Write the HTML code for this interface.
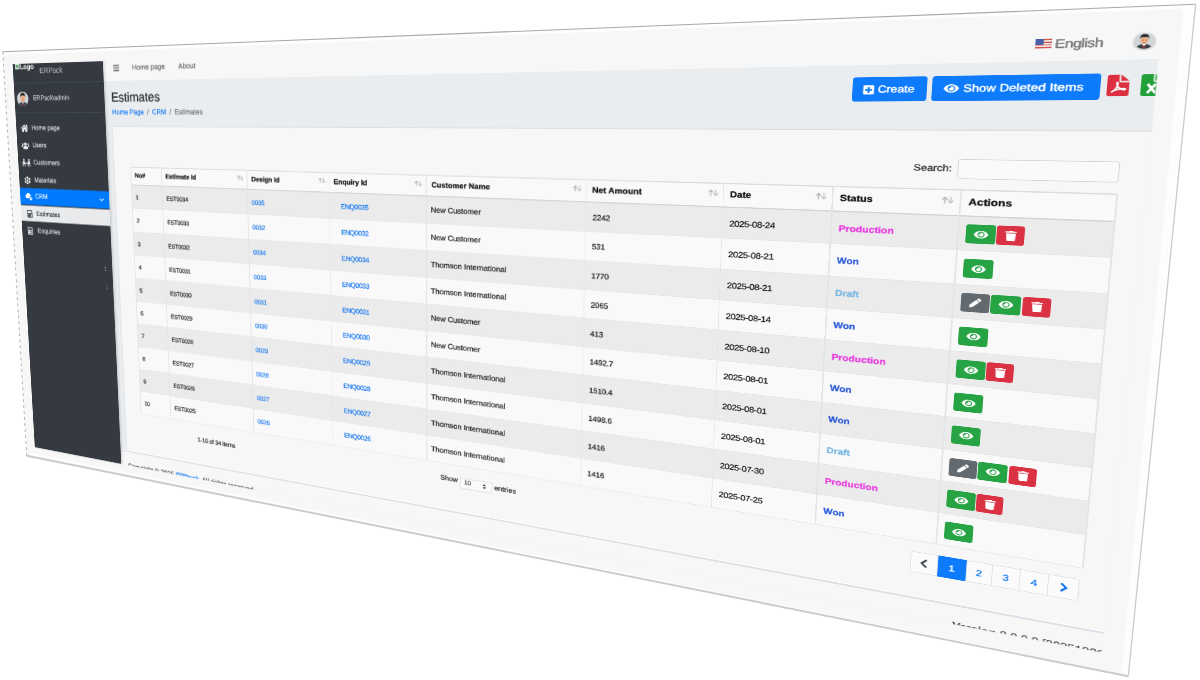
<!DOCTYPE html>
<html><head><meta charset="utf-8"><title>Estimates</title>
<style>
html,body{margin:0;padding:0;background:#fff;}
body{width:1200px;height:680px;overflow:hidden;position:relative;font-family:"Liberation Sans",sans-serif;text-rendering:geometricPrecision;}
.a{position:absolute;}
.t{white-space:nowrap;line-height:1.15;-webkit-text-stroke:.36px;}
.b{font-weight:bold;}
svg{display:block}
.strip{position:absolute;left:0;top:0;overflow:hidden;transform-origin:0 0;}
.flat{position:absolute;left:0;top:0;width:2000px;height:950px;background:#f7f7f7;transform-origin:0 0;}
.screen{overflow:hidden;clip-path:polygon(0 0,100% 0,100% calc(100% - 3.5px),0 100%)}
#ov{position:absolute;left:0;top:0}
</style></head><body>
<div class="strip" style="width:353.00px;height:475.00px;transform:matrix3d(0.69366309,-0.049295366,0,-0.0004175269,0.053538541,0.90554243,0,0.0001207023,0,0,1,0,2.8,51.8,0,1)"><div class="flat" style="transform:scale(0.5) translate(0px,0)"><div class="a screen" style="left:26px;top:27.3px;width:1942.5px;height:898.2px"><div class="a" style="left:243.5px;top:42.7px;width:1699.0px;height:855.5px;background:#eaedf0"></div><div class="a" style="left:243.5px;top:0.0px;width:1703.0px;height:42.7px;background:#f7f7f7"></div><div class="a" style="left:269.5px;top:8.2px;width:15px;height:17px;color:#555"><svg viewBox="0 0 448 512" width="15" height="17" fill="currentColor" ><path d="M16 132h416a16 16 0 0 0 16-16V76a16 16 0 0 0-16-16H16A16 16 0 0 0 0 76v40a16 16 0 0 0 16 16zm0 160h416a16 16 0 0 0 16-16v-40a16 16 0 0 0-16-16H16a16 16 0 0 0-16 16v40a16 16 0 0 0 16 16zm0 160h416a16 16 0 0 0 16-16v-40a16 16 0 0 0-16-16H16a16 16 0 0 0-16 16v40a16 16 0 0 0 16 16z"/></svg></div><div class="a t " style="left:317px;top:8.2px;font-size:15.5px;color:#6b6b6b">Home page</div><div class="a t " style="left:429px;top:8.2px;font-size:15.5px;color:#6b6b6b">About</div><div class="a" style="left:1811px;top:12.0px;width:18px;height:13.5px;background:repeating-linear-gradient(#d2554f 0 1.9px,#f2e6e6 1.9px 3.8px);overflow:hidden"><div style="width:8.5px;height:7.5px;background:#4a5fa8"></div></div><div class="a t " style="left:1832.5px;top:9.3px;font-size:16.8px;color:#777;-webkit-text-stroke:.45px;letter-spacing:-.55px">English</div><div class="a" style="left:1916px;top:7.7px;width:20.5px;height:21px;border-radius:50%;overflow:hidden;background:#c9ced2;box-shadow:0 1px 3px rgba(0,0,0,.35)"><svg viewBox="0 0 32 32" width="20.5" height="21" preserveAspectRatio="none"><rect width="32" height="32" fill="#cfd6da"/><path d="M4 32c0-7 5-9 12-9s12 2 12 9z" fill="#3a4046"/><path d="M13 23l3 5 3-5z" fill="#fff"/><path d="M15.300 25h1.400l.8 6h-3z" fill="#c0392b"/><ellipse cx="16" cy="14.500" rx="6.600" ry="8" fill="#f0b48f"/><path d="M8.800 13c-.8-8 3-10.500 7.200-10.500S24 5 23.200 13c-.7-3-1.600-4.300-2.600-5-2 .9-7.400.9-9.300 0-1 .7-1.800 2-2.500 5z" fill="#1f2326"/><ellipse cx="13.300" cy="14.300" rx="1" ry=".8" fill="#333"/><ellipse cx="18.700" cy="14.300" rx="1" ry=".8" fill="#333"/><path d="M13.500 19q2.500 1.500 5 0" stroke="#a5532f" stroke-width=".8" fill="none"/></svg></div><div class="a t " style="left:261.5px;top:61.7px;font-size:27.5px;color:#1f2328">Estimates</div><div class="a t " style="left:262px;top:101.2px;font-size:15.1px"><span style="color:#1a7bf2">Home Page</span><span style="color:#777;padding:0 8px">/</span><span style="color:#1a7bf2">CRM</span><span style="color:#777;padding:0 8px">/</span><span style="color:#6c757d">Estimates</span></div><div class="a" style="left:1598px;top:60.7px;width:91.5px;height:36.5px;background:#0d7bfb;border-radius:4px"></div><div class="a" style="left:1611px;top:71.7px;width:15px;height:15.5px;color:#fff"><svg viewBox="0 0 448 512" width="15" height="15.5" fill="currentColor" ><path d="M400 32H48C22 32 0 54 0 80v352c0 26 22 48 48 48h352c26 0 48-22 48-48V80c0-26-22-48-48-48zm-32 252c0 7-5 12-12 12h-92v92c0 7-5 12-12 12h-56c-7 0-12-5-12-12v-92H92c-7 0-12-5-12-12v-56c0-7 5-12 12-12h92v-92c0-7 5-12 12-12h56c7 0 12 5 12 12v92h92c7 0 12 5 12 12z"/></svg></div><div class="a t " style="left:1630px;top:71.0px;font-size:15px;color:#fff;-webkit-text-stroke:.5px">Create</div><div class="a" style="left:1695.5px;top:60.7px;width:189px;height:36px;background:#0d7bfb;border-radius:4px"></div><div class="a" style="left:1709px;top:71.2px;width:20px;height:16px;color:#fff"><svg viewBox="0 0 576 512" width="20" height="16" fill="currentColor" ><path d="M572 242C518 136 411 64 288 64S58 136 3 242a32 32 0 0 0 0 29c54 106 162 177 285 177s230-72 285-177a32 32 0 0 0-1-29zM288 400a144 144 0 1 1 144-144 144 144 0 0 1-144 144zm0-240a95 95 0 0 0-25 4 48 48 0 0 1-67 67 96 96 0 1 0 92-71z"/></svg></div><div class="a t " style="left:1733px;top:70.5px;font-size:15px;color:#fff;-webkit-text-stroke:.5px">Show Deleted Items</div><div class="a" style="left:1891.5px;top:62.7px;width:23px;height:29px"><svg viewBox="0 0 25 29" width="23" height="29" preserveAspectRatio="none"><path d="M2.500 0H13.500V8.500a2 2 0 0 0 2 2H25V26.500a2.500 2.500 0 0 1-2.500 2.500H2.500A2.500 2.500 0 0 1 0 26.500V2.500A2.500 2.500 0 0 1 2.500 0z" fill="#dc3040"/><path d="M15.500 0 25 8.500H15.500z" fill="#dc3040"/><path d="M5 23.500c3.500-1.500 6.500-6 7.300-11.500.3-2-1.800-2-1.500 0 .8 5 4 8 9 8.500 1.800.2 1.800-1.800 0-1.800-5 0-11 2-14.800 4.800z" fill="none" stroke="#fff" stroke-width="1.900"/></svg></div><div class="a" style="left:1927px;top:62.7px;width:23px;height:29px"><svg viewBox="0 0 25 29" width="23" height="29" preserveAspectRatio="none"><path d="M2.500 0H13.500V8.500a2 2 0 0 0 2 2H25V26.500a2.500 2.500 0 0 1-2.500 2.500H2.500A2.500 2.500 0 0 1 0 26.500V2.500A2.500 2.500 0 0 1 2.500 0z" fill="#21a03a"/><path d="M15.500 0 25 8.500H15.500z" fill="#21a03a"/><path d="M7.500 13l9 12M16.500 13l-9 12" stroke="#fff" stroke-width="3.200"/></svg></div><div class="a" style="left:261px;top:140.2px;width:1685.5px;height:726.5px;background:#f7f7f7;box-shadow:-1px -1px 2px rgba(0,0,0,.10)"></div><div class="a t " style="left:1680px;top:187.2px;font-size:13.4px;color:#333">Search:</div><div class="a" style="left:1732.5px;top:180.7px;width:180.5px;height:29px;border:1.5px solid #ced4da;border-radius:4px;background:#fafafa;box-sizing:border-box"></div><div class="a" style="left:303px;top:225.7px;width:1610px;height:545.5px;background:#f9f9f9"></div><div class="a" style="left:303px;top:263.7px;width:1610px;height:50.75px;background:#ebebeb"></div><div class="a" style="left:303px;top:313.9px;width:1610px;height:1px;background:#e2e5e8"></div><div class="a" style="left:303px;top:365.2px;width:1610px;height:50.75px;background:#ebebeb"></div><div class="a" style="left:303px;top:364.7px;width:1610px;height:1px;background:#e2e5e8"></div><div class="a" style="left:303px;top:415.4px;width:1610px;height:1px;background:#e2e5e8"></div><div class="a" style="left:303px;top:466.7px;width:1610px;height:50.75px;background:#ebebeb"></div><div class="a" style="left:303px;top:466.2px;width:1610px;height:1px;background:#e2e5e8"></div><div class="a" style="left:303px;top:517.0px;width:1610px;height:1px;background:#e2e5e8"></div><div class="a" style="left:303px;top:568.2px;width:1610px;height:50.75px;background:#ebebeb"></div><div class="a" style="left:303px;top:567.7px;width:1610px;height:1px;background:#e2e5e8"></div><div class="a" style="left:303px;top:618.5px;width:1610px;height:1px;background:#e2e5e8"></div><div class="a" style="left:303px;top:669.7px;width:1610px;height:50.75px;background:#ebebeb"></div><div class="a" style="left:303px;top:669.2px;width:1610px;height:1px;background:#e2e5e8"></div><div class="a" style="left:303px;top:720.0px;width:1610px;height:1px;background:#e2e5e8"></div><div class="a" style="left:303px;top:225.2px;width:1610px;height:1.2px;background:#d9dde1"></div><div class="a" style="left:303px;top:262.5px;width:1610px;height:2.4px;background:#cfd5da"></div><div class="a" style="left:303px;top:770.7px;width:1610px;height:1px;background:#e2e5e8"></div><div class="a" style="left:302.4px;top:225.7px;width:1.2px;height:545.5px;background:#e2e5e8"></div><div class="a" style="left:378.4px;top:225.7px;width:1.2px;height:545.5px;background:#e2e5e8"></div><div class="a" style="left:578.4px;top:225.7px;width:1.2px;height:545.5px;background:#e2e5e8"></div><div class="a" style="left:753.9px;top:225.7px;width:1.2px;height:545.5px;background:#e2e5e8"></div><div class="a" style="left:944.4px;top:225.7px;width:1.2px;height:545.5px;background:#e2e5e8"></div><div class="a" style="left:1221.9px;top:225.7px;width:1.2px;height:545.5px;background:#e2e5e8"></div><div class="a" style="left:1429.9px;top:225.7px;width:1.2px;height:545.5px;background:#e2e5e8"></div><div class="a" style="left:1579.4px;top:225.7px;width:1.2px;height:545.5px;background:#e2e5e8"></div><div class="a" style="left:1738.4px;top:225.7px;width:1.2px;height:545.5px;background:#e2e5e8"></div><div class="a" style="left:1912.4px;top:225.7px;width:1.2px;height:545.5px;background:#e2e5e8"></div><div class="a t b" style="left:312.5px;top:235.7px;font-size:13.8px;color:#111">No#</div><div class="a t b" style="left:388.5px;top:235.7px;font-size:13.8px;color:#111">Estimate Id</div><div class="a" style="left:556px;top:235.7px"><svg viewBox="0 0 16 11" width="16" height="11" fill="currentColor" ><path d="M4.500 10.500V1.500M1.200 4.800 4.500 1.300 7.800 4.800" stroke="#b9b9b9" stroke-width="1.700" fill="none"/><path d="M11.500 .5v9M8.200 6.200 11.500 9.700 14.800 6.200" stroke="#c6c6c6" stroke-width="1.700" fill="none"/></svg></div><div class="a t b" style="left:588.5px;top:235.7px;font-size:13.8px;color:#111">Design Id</div><div class="a" style="left:731.5px;top:235.7px"><svg viewBox="0 0 16 11" width="16" height="11" fill="currentColor" ><path d="M4.500 10.500V1.500M1.200 4.800 4.500 1.300 7.800 4.800" stroke="#b9b9b9" stroke-width="1.700" fill="none"/><path d="M11.500 .5v9M8.200 6.200 11.500 9.700 14.800 6.200" stroke="#c6c6c6" stroke-width="1.700" fill="none"/></svg></div><div class="a t b" style="left:764.0px;top:235.7px;font-size:13.8px;color:#111">Enquiry Id</div><div class="a" style="left:922px;top:235.7px"><svg viewBox="0 0 16 11" width="16" height="11" fill="currentColor" ><path d="M4.500 10.500V1.500M1.200 4.800 4.500 1.300 7.800 4.800" stroke="#b9b9b9" stroke-width="1.700" fill="none"/><path d="M11.500 .5v9M8.200 6.200 11.500 9.700 14.800 6.200" stroke="#c6c6c6" stroke-width="1.700" fill="none"/></svg></div><div class="a t b" style="left:954.5px;top:235.7px;font-size:13.8px;color:#111">Customer Name</div><div class="a" style="left:1199.5px;top:235.7px"><svg viewBox="0 0 16 11" width="16" height="11" fill="currentColor" ><path d="M4.500 10.500V1.500M1.200 4.800 4.500 1.300 7.800 4.800" stroke="#b9b9b9" stroke-width="1.700" fill="none"/><path d="M11.500 .5v9M8.200 6.200 11.500 9.700 14.800 6.200" stroke="#c6c6c6" stroke-width="1.700" fill="none"/></svg></div><div class="a t b" style="left:1232.0px;top:235.7px;font-size:13.8px;color:#111">Net Amount</div><div class="a" style="left:1407.5px;top:235.7px"><svg viewBox="0 0 16 11" width="16" height="11" fill="currentColor" ><path d="M4.500 10.500V1.500M1.200 4.800 4.500 1.300 7.800 4.800" stroke="#b9b9b9" stroke-width="1.700" fill="none"/><path d="M11.500 .5v9M8.200 6.200 11.500 9.700 14.800 6.200" stroke="#c6c6c6" stroke-width="1.700" fill="none"/></svg></div><div class="a t b" style="left:1440.0px;top:235.7px;font-size:13.8px;color:#111">Date</div><div class="a" style="left:1557px;top:235.7px"><svg viewBox="0 0 16 11" width="16" height="11" fill="currentColor" ><path d="M4.500 10.500V1.500M1.200 4.800 4.500 1.300 7.800 4.800" stroke="#b9b9b9" stroke-width="1.700" fill="none"/><path d="M11.500 .5v9M8.200 6.200 11.500 9.700 14.800 6.200" stroke="#c6c6c6" stroke-width="1.700" fill="none"/></svg></div><div class="a t b" style="left:1589.5px;top:235.7px;font-size:13.8px;color:#111">Status</div><div class="a" style="left:1716px;top:235.7px"><svg viewBox="0 0 16 11" width="16" height="11" fill="currentColor" ><path d="M4.500 10.500V1.500M1.200 4.800 4.500 1.300 7.800 4.800" stroke="#b9b9b9" stroke-width="1.700" fill="none"/><path d="M11.500 .5v9M8.200 6.200 11.500 9.700 14.800 6.200" stroke="#c6c6c6" stroke-width="1.700" fill="none"/></svg></div><div class="a t b" style="left:1748.5px;top:235.7px;font-size:13.8px;color:#111">Actions</div><div class="a t " style="left:312.5px;top:282.3px;font-size:13.2px;color:#222;letter-spacing:-.35px">1</div><div class="a t " style="left:388.8px;top:282.3px;font-size:13.2px;color:#222;letter-spacing:-.35px">EST0034</div><div class="a t " style="left:588.2px;top:282.3px;font-size:13.2px;color:#1b7af0;letter-spacing:-.35px">0035</div><div class="a t " style="left:778px;top:282.3px;font-size:13.2px;color:#1b7af0;letter-spacing:-.35px">ENQ0035</div><div class="a t " style="left:953.3px;top:282.0px;font-size:13.8px;color:#222">New Customer</div><div class="a t " style="left:1233.2px;top:282.3px;font-size:13.2px;color:#222;letter-spacing:-.35px">2242</div><div class="a t " style="left:1440.7px;top:282.3px;font-size:13.2px;color:#222;letter-spacing:-.35px">2025-08-24</div><div class="a t b" style="left:1590px;top:282.3px;font-size:13.4px;color:#e83ae0">Production</div><div class="a" style="left:1747.5px;top:276.1px;width:35.3px;height:28px;background:#26a343;border-radius:3.5px"></div><div class="a" style="left:1756.5px;top:282.6px;width:18px;height:15px;color:#fff"><svg viewBox="0 0 576 512" width="18" height="15" fill="currentColor" ><path d="M572 242C518 136 411 64 288 64S58 136 3 242a32 32 0 0 0 0 29c54 106 162 177 285 177s230-72 285-177a32 32 0 0 0-1-29zM288 400a144 144 0 1 1 144-144 144 144 0 0 1-144 144zm0-240a95 95 0 0 0-25 4 48 48 0 0 1-67 67 96 96 0 1 0 92-71z"/></svg></div><div class="a" style="left:1784.3px;top:276.1px;width:32.2px;height:28px;background:#da3243;border-radius:3.5px"></div><div class="a" style="left:1794.3px;top:282.6px;width:13px;height:15px;color:#fff"><svg viewBox="0 0 448 512" width="13" height="15" fill="currentColor" ><path d="M432 32H312l-9-19a24 24 0 0 0-22-13H167a24 24 0 0 0-21 13l-10 19H16A16 16 0 0 0 0 48v32a16 16 0 0 0 16 16h416a16 16 0 0 0 16-16V48a16 16 0 0 0-16-16zM53 467a48 48 0 0 0 48 45h246a48 48 0 0 0 48-45l21-339H32z"/></svg></div><div class="a t " style="left:312.5px;top:333.0px;font-size:13.2px;color:#222;letter-spacing:-.35px">2</div><div class="a t " style="left:388.8px;top:333.0px;font-size:13.2px;color:#222;letter-spacing:-.35px">EST0033</div><div class="a t " style="left:588.2px;top:333.0px;font-size:13.2px;color:#1b7af0;letter-spacing:-.35px">0032</div><div class="a t " style="left:778px;top:333.0px;font-size:13.2px;color:#1b7af0;letter-spacing:-.35px">ENQ0032</div><div class="a t " style="left:953.3px;top:332.7px;font-size:13.8px;color:#222">New Customer</div><div class="a t " style="left:1233.2px;top:333.0px;font-size:13.2px;color:#222;letter-spacing:-.35px">531</div><div class="a t " style="left:1440.7px;top:333.0px;font-size:13.2px;color:#222;letter-spacing:-.35px">2025-08-21</div><div class="a t b" style="left:1590px;top:333.0px;font-size:13.4px;color:#2d5bd8">Won</div><div class="a" style="left:1747.5px;top:326.8px;width:35.3px;height:28px;background:#26a343;border-radius:3.5px"></div><div class="a" style="left:1756.5px;top:333.3px;width:18px;height:15px;color:#fff"><svg viewBox="0 0 576 512" width="18" height="15" fill="currentColor" ><path d="M572 242C518 136 411 64 288 64S58 136 3 242a32 32 0 0 0 0 29c54 106 162 177 285 177s230-72 285-177a32 32 0 0 0-1-29zM288 400a144 144 0 1 1 144-144 144 144 0 0 1-144 144zm0-240a95 95 0 0 0-25 4 48 48 0 0 1-67 67 96 96 0 1 0 92-71z"/></svg></div><div class="a t " style="left:312.5px;top:383.8px;font-size:13.2px;color:#222;letter-spacing:-.35px">3</div><div class="a t " style="left:388.8px;top:383.8px;font-size:13.2px;color:#222;letter-spacing:-.35px">EST0032</div><div class="a t " style="left:588.2px;top:383.8px;font-size:13.2px;color:#1b7af0;letter-spacing:-.35px">0034</div><div class="a t " style="left:778px;top:383.8px;font-size:13.2px;color:#1b7af0;letter-spacing:-.35px">ENQ0034</div><div class="a t " style="left:953.3px;top:383.5px;font-size:13.8px;color:#222">Thomson International</div><div class="a t " style="left:1233.2px;top:383.8px;font-size:13.2px;color:#222;letter-spacing:-.35px">1770</div><div class="a t " style="left:1440.7px;top:383.8px;font-size:13.2px;color:#222;letter-spacing:-.35px">2025-08-21</div><div class="a t b" style="left:1590px;top:383.8px;font-size:13.4px;color:#79b7e3">Draft</div><div class="a" style="left:1747.5px;top:377.6px;width:34px;height:28px;background:#62696f;border-radius:3.5px"></div><div class="a" style="left:1757.5px;top:384.6px;width:14px;height:14px;color:#fff"><svg viewBox="0 0 512 512" width="14" height="14" fill="currentColor" ><path d="M498 142l-46 46c-5 5-12 5-17 0L324 77c-5-5-5-12 0-17l46-46c19-19 49-19 68 0l60 60c19 19 19 49 0 68zM285 99 23 361 2 482c-3 17 12 31 28 28l121-21 262-262c5-5 5-12 0-17L302 99c-5-5-12-5-17 0z"/></svg></div><div class="a" style="left:1783.0px;top:377.6px;width:35.3px;height:28px;background:#26a343;border-radius:3.5px"></div><div class="a" style="left:1792.0px;top:384.1px;width:18px;height:15px;color:#fff"><svg viewBox="0 0 576 512" width="18" height="15" fill="currentColor" ><path d="M572 242C518 136 411 64 288 64S58 136 3 242a32 32 0 0 0 0 29c54 106 162 177 285 177s230-72 285-177a32 32 0 0 0-1-29zM288 400a144 144 0 1 1 144-144 144 144 0 0 1-144 144zm0-240a95 95 0 0 0-25 4 48 48 0 0 1-67 67 96 96 0 1 0 92-71z"/></svg></div><div class="a" style="left:1819.8px;top:377.6px;width:32.2px;height:28px;background:#da3243;border-radius:3.5px"></div><div class="a" style="left:1829.8px;top:384.1px;width:13px;height:15px;color:#fff"><svg viewBox="0 0 448 512" width="13" height="15" fill="currentColor" ><path d="M432 32H312l-9-19a24 24 0 0 0-22-13H167a24 24 0 0 0-21 13l-10 19H16A16 16 0 0 0 0 48v32a16 16 0 0 0 16 16h416a16 16 0 0 0 16-16V48a16 16 0 0 0-16-16zM53 467a48 48 0 0 0 48 45h246a48 48 0 0 0 48-45l21-339H32z"/></svg></div><div class="a t " style="left:312.5px;top:434.5px;font-size:13.2px;color:#222;letter-spacing:-.35px">4</div><div class="a t " style="left:388.8px;top:434.5px;font-size:13.2px;color:#222;letter-spacing:-.35px">EST0031</div><div class="a t " style="left:588.2px;top:434.5px;font-size:13.2px;color:#1b7af0;letter-spacing:-.35px">0033</div><div class="a t " style="left:778px;top:434.5px;font-size:13.2px;color:#1b7af0;letter-spacing:-.35px">ENQ0033</div><div class="a t " style="left:953.3px;top:434.2px;font-size:13.8px;color:#222">Thomson International</div><div class="a t " style="left:1233.2px;top:434.5px;font-size:13.2px;color:#222;letter-spacing:-.35px">2065</div><div class="a t " style="left:1440.7px;top:434.5px;font-size:13.2px;color:#222;letter-spacing:-.35px">2025-08-14</div><div class="a t b" style="left:1590px;top:434.5px;font-size:13.4px;color:#2d5bd8">Won</div><div class="a" style="left:1747.5px;top:428.3px;width:35.3px;height:28px;background:#26a343;border-radius:3.5px"></div><div class="a" style="left:1756.5px;top:434.8px;width:18px;height:15px;color:#fff"><svg viewBox="0 0 576 512" width="18" height="15" fill="currentColor" ><path d="M572 242C518 136 411 64 288 64S58 136 3 242a32 32 0 0 0 0 29c54 106 162 177 285 177s230-72 285-177a32 32 0 0 0-1-29zM288 400a144 144 0 1 1 144-144 144 144 0 0 1-144 144zm0-240a95 95 0 0 0-25 4 48 48 0 0 1-67 67 96 96 0 1 0 92-71z"/></svg></div><div class="a t " style="left:312.5px;top:485.3px;font-size:13.2px;color:#222;letter-spacing:-.35px">5</div><div class="a t " style="left:388.8px;top:485.3px;font-size:13.2px;color:#222;letter-spacing:-.35px">EST0030</div><div class="a t " style="left:588.2px;top:485.3px;font-size:13.2px;color:#1b7af0;letter-spacing:-.35px">0031</div><div class="a t " style="left:778px;top:485.3px;font-size:13.2px;color:#1b7af0;letter-spacing:-.35px">ENQ0031</div><div class="a t " style="left:953.3px;top:485.0px;font-size:13.8px;color:#222">New Customer</div><div class="a t " style="left:1233.2px;top:485.3px;font-size:13.2px;color:#222;letter-spacing:-.35px">413</div><div class="a t " style="left:1440.7px;top:485.3px;font-size:13.2px;color:#222;letter-spacing:-.35px">2025-08-10</div><div class="a t b" style="left:1590px;top:485.3px;font-size:13.4px;color:#e83ae0">Production</div><div class="a" style="left:1747.5px;top:479.1px;width:35.3px;height:28px;background:#26a343;border-radius:3.5px"></div><div class="a" style="left:1756.5px;top:485.6px;width:18px;height:15px;color:#fff"><svg viewBox="0 0 576 512" width="18" height="15" fill="currentColor" ><path d="M572 242C518 136 411 64 288 64S58 136 3 242a32 32 0 0 0 0 29c54 106 162 177 285 177s230-72 285-177a32 32 0 0 0-1-29zM288 400a144 144 0 1 1 144-144 144 144 0 0 1-144 144zm0-240a95 95 0 0 0-25 4 48 48 0 0 1-67 67 96 96 0 1 0 92-71z"/></svg></div><div class="a" style="left:1784.3px;top:479.1px;width:32.2px;height:28px;background:#da3243;border-radius:3.5px"></div><div class="a" style="left:1794.3px;top:485.6px;width:13px;height:15px;color:#fff"><svg viewBox="0 0 448 512" width="13" height="15" fill="currentColor" ><path d="M432 32H312l-9-19a24 24 0 0 0-22-13H167a24 24 0 0 0-21 13l-10 19H16A16 16 0 0 0 0 48v32a16 16 0 0 0 16 16h416a16 16 0 0 0 16-16V48a16 16 0 0 0-16-16zM53 467a48 48 0 0 0 48 45h246a48 48 0 0 0 48-45l21-339H32z"/></svg></div><div class="a t " style="left:312.5px;top:536.0px;font-size:13.2px;color:#222;letter-spacing:-.35px">6</div><div class="a t " style="left:388.8px;top:536.0px;font-size:13.2px;color:#222;letter-spacing:-.35px">EST0029</div><div class="a t " style="left:588.2px;top:536.0px;font-size:13.2px;color:#1b7af0;letter-spacing:-.35px">0030</div><div class="a t " style="left:778px;top:536.0px;font-size:13.2px;color:#1b7af0;letter-spacing:-.35px">ENQ0030</div><div class="a t " style="left:953.3px;top:535.7px;font-size:13.8px;color:#222">New Customer</div><div class="a t " style="left:1233.2px;top:536.0px;font-size:13.2px;color:#222;letter-spacing:-.35px">1492.7</div><div class="a t " style="left:1440.7px;top:536.0px;font-size:13.2px;color:#222;letter-spacing:-.35px">2025-08-01</div><div class="a t b" style="left:1590px;top:536.0px;font-size:13.4px;color:#2d5bd8">Won</div><div class="a" style="left:1747.5px;top:529.8px;width:35.3px;height:28px;background:#26a343;border-radius:3.5px"></div><div class="a" style="left:1756.5px;top:536.3px;width:18px;height:15px;color:#fff"><svg viewBox="0 0 576 512" width="18" height="15" fill="currentColor" ><path d="M572 242C518 136 411 64 288 64S58 136 3 242a32 32 0 0 0 0 29c54 106 162 177 285 177s230-72 285-177a32 32 0 0 0-1-29zM288 400a144 144 0 1 1 144-144 144 144 0 0 1-144 144zm0-240a95 95 0 0 0-25 4 48 48 0 0 1-67 67 96 96 0 1 0 92-71z"/></svg></div><div class="a t " style="left:312.5px;top:586.8px;font-size:13.2px;color:#222;letter-spacing:-.35px">7</div><div class="a t " style="left:388.8px;top:586.8px;font-size:13.2px;color:#222;letter-spacing:-.35px">EST0028</div><div class="a t " style="left:588.2px;top:586.8px;font-size:13.2px;color:#1b7af0;letter-spacing:-.35px">0029</div><div class="a t " style="left:778px;top:586.8px;font-size:13.2px;color:#1b7af0;letter-spacing:-.35px">ENQ0029</div><div class="a t " style="left:953.3px;top:586.5px;font-size:13.8px;color:#222">Thomson International</div><div class="a t " style="left:1233.2px;top:586.8px;font-size:13.2px;color:#222;letter-spacing:-.35px">1510.4</div><div class="a t " style="left:1440.7px;top:586.8px;font-size:13.2px;color:#222;letter-spacing:-.35px">2025-08-01</div><div class="a t b" style="left:1590px;top:586.8px;font-size:13.4px;color:#2d5bd8">Won</div><div class="a" style="left:1747.5px;top:580.6px;width:35.3px;height:28px;background:#26a343;border-radius:3.5px"></div><div class="a" style="left:1756.5px;top:587.1px;width:18px;height:15px;color:#fff"><svg viewBox="0 0 576 512" width="18" height="15" fill="currentColor" ><path d="M572 242C518 136 411 64 288 64S58 136 3 242a32 32 0 0 0 0 29c54 106 162 177 285 177s230-72 285-177a32 32 0 0 0-1-29zM288 400a144 144 0 1 1 144-144 144 144 0 0 1-144 144zm0-240a95 95 0 0 0-25 4 48 48 0 0 1-67 67 96 96 0 1 0 92-71z"/></svg></div><div class="a t " style="left:312.5px;top:637.5px;font-size:13.2px;color:#222;letter-spacing:-.35px">8</div><div class="a t " style="left:388.8px;top:637.5px;font-size:13.2px;color:#222;letter-spacing:-.35px">EST0027</div><div class="a t " style="left:588.2px;top:637.5px;font-size:13.2px;color:#1b7af0;letter-spacing:-.35px">0028</div><div class="a t " style="left:778px;top:637.5px;font-size:13.2px;color:#1b7af0;letter-spacing:-.35px">ENQ0028</div><div class="a t " style="left:953.3px;top:637.2px;font-size:13.8px;color:#222">Thomson International</div><div class="a t " style="left:1233.2px;top:637.5px;font-size:13.2px;color:#222;letter-spacing:-.35px">1498.6</div><div class="a t " style="left:1440.7px;top:637.5px;font-size:13.2px;color:#222;letter-spacing:-.35px">2025-08-01</div><div class="a t b" style="left:1590px;top:637.5px;font-size:13.4px;color:#79b7e3">Draft</div><div class="a" style="left:1747.5px;top:631.3px;width:34px;height:28px;background:#62696f;border-radius:3.5px"></div><div class="a" style="left:1757.5px;top:638.3px;width:14px;height:14px;color:#fff"><svg viewBox="0 0 512 512" width="14" height="14" fill="currentColor" ><path d="M498 142l-46 46c-5 5-12 5-17 0L324 77c-5-5-5-12 0-17l46-46c19-19 49-19 68 0l60 60c19 19 19 49 0 68zM285 99 23 361 2 482c-3 17 12 31 28 28l121-21 262-262c5-5 5-12 0-17L302 99c-5-5-12-5-17 0z"/></svg></div><div class="a" style="left:1783.0px;top:631.3px;width:35.3px;height:28px;background:#26a343;border-radius:3.5px"></div><div class="a" style="left:1792.0px;top:637.8px;width:18px;height:15px;color:#fff"><svg viewBox="0 0 576 512" width="18" height="15" fill="currentColor" ><path d="M572 242C518 136 411 64 288 64S58 136 3 242a32 32 0 0 0 0 29c54 106 162 177 285 177s230-72 285-177a32 32 0 0 0-1-29zM288 400a144 144 0 1 1 144-144 144 144 0 0 1-144 144zm0-240a95 95 0 0 0-25 4 48 48 0 0 1-67 67 96 96 0 1 0 92-71z"/></svg></div><div class="a" style="left:1819.8px;top:631.3px;width:32.2px;height:28px;background:#da3243;border-radius:3.5px"></div><div class="a" style="left:1829.8px;top:637.8px;width:13px;height:15px;color:#fff"><svg viewBox="0 0 448 512" width="13" height="15" fill="currentColor" ><path d="M432 32H312l-9-19a24 24 0 0 0-22-13H167a24 24 0 0 0-21 13l-10 19H16A16 16 0 0 0 0 48v32a16 16 0 0 0 16 16h416a16 16 0 0 0 16-16V48a16 16 0 0 0-16-16zM53 467a48 48 0 0 0 48 45h246a48 48 0 0 0 48-45l21-339H32z"/></svg></div><div class="a t " style="left:312.5px;top:688.3px;font-size:13.2px;color:#222;letter-spacing:-.35px">9</div><div class="a t " style="left:388.8px;top:688.3px;font-size:13.2px;color:#222;letter-spacing:-.35px">EST0026</div><div class="a t " style="left:588.2px;top:688.3px;font-size:13.2px;color:#1b7af0;letter-spacing:-.35px">0027</div><div class="a t " style="left:778px;top:688.3px;font-size:13.2px;color:#1b7af0;letter-spacing:-.35px">ENQ0027</div><div class="a t " style="left:953.3px;top:688.0px;font-size:13.8px;color:#222">Thomson International</div><div class="a t " style="left:1233.2px;top:688.3px;font-size:13.2px;color:#222;letter-spacing:-.35px">1416</div><div class="a t " style="left:1440.7px;top:688.3px;font-size:13.2px;color:#222;letter-spacing:-.35px">2025-07-30</div><div class="a t b" style="left:1590px;top:688.3px;font-size:13.4px;color:#e83ae0">Production</div><div class="a" style="left:1747.5px;top:682.1px;width:35.3px;height:28px;background:#26a343;border-radius:3.5px"></div><div class="a" style="left:1756.5px;top:688.6px;width:18px;height:15px;color:#fff"><svg viewBox="0 0 576 512" width="18" height="15" fill="currentColor" ><path d="M572 242C518 136 411 64 288 64S58 136 3 242a32 32 0 0 0 0 29c54 106 162 177 285 177s230-72 285-177a32 32 0 0 0-1-29zM288 400a144 144 0 1 1 144-144 144 144 0 0 1-144 144zm0-240a95 95 0 0 0-25 4 48 48 0 0 1-67 67 96 96 0 1 0 92-71z"/></svg></div><div class="a" style="left:1784.3px;top:682.1px;width:32.2px;height:28px;background:#da3243;border-radius:3.5px"></div><div class="a" style="left:1794.3px;top:688.6px;width:13px;height:15px;color:#fff"><svg viewBox="0 0 448 512" width="13" height="15" fill="currentColor" ><path d="M432 32H312l-9-19a24 24 0 0 0-22-13H167a24 24 0 0 0-21 13l-10 19H16A16 16 0 0 0 0 48v32a16 16 0 0 0 16 16h416a16 16 0 0 0 16-16V48a16 16 0 0 0-16-16zM53 467a48 48 0 0 0 48 45h246a48 48 0 0 0 48-45l21-339H32z"/></svg></div><div class="a t " style="left:312.5px;top:739.0px;font-size:13.2px;color:#222;letter-spacing:-.35px">10</div><div class="a t " style="left:388.8px;top:739.0px;font-size:13.2px;color:#222;letter-spacing:-.35px">EST0025</div><div class="a t " style="left:588.2px;top:739.0px;font-size:13.2px;color:#1b7af0;letter-spacing:-.35px">0026</div><div class="a t " style="left:778px;top:739.0px;font-size:13.2px;color:#1b7af0;letter-spacing:-.35px">ENQ0026</div><div class="a t " style="left:953.3px;top:738.7px;font-size:13.8px;color:#222">Thomson International</div><div class="a t " style="left:1233.2px;top:739.0px;font-size:13.2px;color:#222;letter-spacing:-.35px">1416</div><div class="a t " style="left:1440.7px;top:739.0px;font-size:13.2px;color:#222;letter-spacing:-.35px">2025-07-25</div><div class="a t b" style="left:1590px;top:739.0px;font-size:13.4px;color:#2d5bd8">Won</div><div class="a" style="left:1747.5px;top:732.8px;width:35.3px;height:28px;background:#26a343;border-radius:3.5px"></div><div class="a" style="left:1756.5px;top:739.3px;width:18px;height:15px;color:#fff"><svg viewBox="0 0 576 512" width="18" height="15" fill="currentColor" ><path d="M572 242C518 136 411 64 288 64S58 136 3 242a32 32 0 0 0 0 29c54 106 162 177 285 177s230-72 285-177a32 32 0 0 0-1-29zM288 400a144 144 0 1 1 144-144 144 144 0 0 1-144 144zm0-240a95 95 0 0 0-25 4 48 48 0 0 1-67 67 96 96 0 1 0 92-71z"/></svg></div><div class="a t " style="left:444px;top:800.7px;font-size:13.3px;color:#222;letter-spacing:-.3px">1-10 of 34 items</div><div class="a t " style="left:971px;top:792.2px;font-size:13.2px;color:#222">Show</div><div class="a" style="left:1007.5px;top:793.7px;width:60px;height:21px;border:1.2px solid #ced4da;border-radius:3px;box-sizing:border-box;background:#fafafa"></div><div class="a t " style="left:1016px;top:796.7px;font-size:11.5px;color:#444">10</div><div class="a" style="left:1050px;top:799.2px"><svg width="7" height="10" viewBox="0 0 7 10"><path d="M3.500 0 6.500 4H.5zM3.500 10 .5 6h6z" fill="#333"/></svg></div><div class="a t " style="left:1071.5px;top:794.7px;font-size:13.2px;color:#222">entries</div><div class="a" style="left:1708px;top:788.7px;width:202.5px;height:34px;background:#fbfbfb;border:1px solid #dde1e5;border-radius:4px;box-sizing:border-box"></div><div class="a" style="left:1742.0px;top:788.7px;width:1px;height:34px;background:#dde1e5"></div><div class="a" style="left:1777.5px;top:788.7px;width:1px;height:34px;background:#dde1e5"></div><div class="a" style="left:1809.1px;top:788.7px;width:1px;height:34px;background:#dde1e5"></div><div class="a" style="left:1842.1px;top:788.7px;width:1px;height:34px;background:#dde1e5"></div><div class="a" style="left:1875.2px;top:788.7px;width:1px;height:34px;background:#dde1e5"></div><div class="a" style="left:1742.5px;top:788.7px;width:35.5px;height:34px;background:#0d7bfb"></div><div class="a" style="left:1719.8px;top:797.7px"><svg width="11" height="16" viewBox="0 0 11 16"><path d="M8.500 2 2.500 8l6 6" fill="none" stroke="#3c4248" stroke-width="2.600"/></svg></div><div class="a t" style="left:1745.2px;top:788.7px;width:30px;height:34px;line-height:35px;text-align:center;font-size:13.5px;color:#fff">1</div><div class="a t" style="left:1778.8px;top:788.7px;width:30px;height:34px;line-height:35px;text-align:center;font-size:13.5px;color:#1a7bf2">2</div><div class="a t" style="left:1811.1px;top:788.7px;width:30px;height:34px;line-height:35px;text-align:center;font-size:13.5px;color:#1a7bf2">3</div><div class="a t" style="left:1844.2px;top:788.7px;width:30px;height:34px;line-height:35px;text-align:center;font-size:13.5px;color:#1a7bf2">4</div><div class="a" style="left:1887.6px;top:797.7px"><svg width="11" height="16" viewBox="0 0 11 16"><path d="M2.500 2l6 6-6 6" fill="none" stroke="#0d6ff0" stroke-width="2.600"/></svg></div><div class="a" style="left:243.5px;top:863.2px;width:1703.0px;height:44px;background:#f7f7f7;border-top:3.5px solid #dbe1e7;box-shadow:0 -2px 0 #fbfbfb"></div><div class="a t " style="left:262px;top:889.7px;font-size:15.4px;color:#555">Copyright &copy; 2025 <b style="color:#1a7bf2">ERPack</b>. All rights reserved.</div><div class="a t " style="left:1766px;top:888.7px;font-size:15px;color:#555;white-space:nowrap"><b>Version</b> 8.0.0.0 [20251026]</div><div class="a" style="left:0px;top:0.0px;width:243.5px;height:898.2px;background:#343a40;box-shadow:2px 0 7px rgba(0,0,0,.22)"></div><div class="a" style="left:6px;top:-0.3px;width:13px;height:13px;background:#dfe6ea;border-radius:2px"><div style="margin:3px 2px;width:9px;height:7px;background:#6aa56a;border-radius:1px"></div></div><div class="a t b" style="left:20px;top:-0.8px;font-size:16px;color:#f2f2f2">Logo</div><div class="a t " style="left:74px;top:7.2px;font-size:17.8px;color:#c4c9ce;letter-spacing:-.2px;-webkit-text-stroke:0">ERPack</div><div class="a" style="left:0px;top:42.7px;width:243.5px;height:1px;background:#4b545c"></div><div class="a" style="left:6.7px;top:63.2px;width:32.5px;height:32px;border-radius:50%;overflow:hidden;background:#c9ced2;box-shadow:0 1px 3px rgba(0,0,0,.35)"><svg viewBox="0 0 32 32" width="32.5" height="32" preserveAspectRatio="none"><rect width="32" height="32" fill="#cfd6da"/><path d="M4 32c0-7 5-9 12-9s12 2 12 9z" fill="#3a4046"/><path d="M13 23l3 5 3-5z" fill="#fff"/><path d="M15.300 25h1.400l.8 6h-3z" fill="#c0392b"/><ellipse cx="16" cy="14.500" rx="6.600" ry="8" fill="#f0b48f"/><path d="M8.800 13c-.8-8 3-10.500 7.200-10.500S24 5 23.200 13c-.7-3-1.600-4.300-2.600-5-2 .9-7.400.9-9.300 0-1 .7-1.800 2-2.500 5z" fill="#1f2326"/><ellipse cx="13.300" cy="14.300" rx="1" ry=".8" fill="#333"/><ellipse cx="18.700" cy="14.300" rx="1" ry=".8" fill="#333"/><path d="M13.500 19q2.500 1.500 5 0" stroke="#a5532f" stroke-width=".8" fill="none"/></svg></div><div class="a t " style="left:52px;top:68.7px;font-size:15px;color:#c9cdd1">ERPack\admin</div><div class="a" style="left:8px;top:108.7px;width:228px;height:1px;background:#4f5962"></div><div class="a" style="left:11.5px;top:134.7px;width:23px;height:19px;color:#eceef0"><svg viewBox="0 0 576 512" width="23" height="19" fill="currentColor" ><path d="M280 148 96 300v164a16 16 0 0 0 16 16l112-.3a16 16 0 0 0 16-16V368a16 16 0 0 1 16-16h64a16 16 0 0 1 16 16v95.600a16 16 0 0 0 16 16.100l112 .3a16 16 0 0 0 16-16V300L296 148a12 12 0 0 0-16 0zM572 251l-84-69V44a12 12 0 0 0-12-12h-56a12 12 0 0 0-12 12v73l-89-74a48 48 0 0 0-61 0L4 251a12 12 0 0 0-2 17l26 31a12 12 0 0 0 17 2L280 107a12 12 0 0 1 16 0l236 194a12 12 0 0 0 17-2l26-31a12 12 0 0 0-3-17z"/></svg></div><div class="a t " style="left:43px;top:134.4px;font-size:15.2px;-webkit-text-stroke:.35px;color:#e6e9eb">Home page</div><div class="a" style="left:11.5px;top:174.2px;width:23px;height:19px;color:#eceef0"><svg viewBox="0 0 640 512" width="23" height="19" fill="currentColor" ><circle cx="112" cy="176" r="64"/><circle cx="528" cy="176" r="64"/><circle cx="320" cy="160" r="104"/><path d="M40 260h110c-30 24-44 60-40 100H20v-50c0-30 10-50 20-50zM600 260H490c30 24 44 60 40 100h90v-50c0-30-10-50-20-50zM230 290h180c60 0 90 50 90 100v60c0 20-12 30-30 30H170c-18 0-30-10-30-30v-60c0-50 30-100 90-100z"/></svg></div><div class="a t " style="left:43px;top:173.9px;font-size:15.2px;-webkit-text-stroke:.35px;color:#e6e9eb">Users</div><div class="a" style="left:11.5px;top:213.2px;width:23px;height:19px;color:#eceef0"><svg viewBox="0 0 576 512" width="23" height="19" fill="currentColor" ><circle cx="96" cy="80" r="64"/><circle cx="480" cy="80" r="64"/><path d="M40 170h112c22 0 40 18 40 40v270h-60V340h-72v140H0V210c0-22 18-40 40-40zM424 170h112c22 0 40 18 40 40v270h-60V340h-72v140h-60V210c0-22 18-40 40-40z"/><path d="M200 250h176v56H200z"/></svg></div><div class="a t " style="left:43px;top:212.9px;font-size:15.2px;-webkit-text-stroke:.35px;color:#e6e9eb">Customers</div><div class="a" style="left:11.5px;top:252.7px;width:23px;height:19px;color:#eceef0"><svg viewBox="0 0 512 512" width="23" height="19" fill="currentColor" ><circle cx="256" cy="256" r="70"/><circle cx="256" cy="80" r="70"/><circle cx="256" cy="432" r="70"/><circle cx="104" cy="168" r="70"/><circle cx="408" cy="168" r="70"/><circle cx="104" cy="344" r="70"/><circle cx="408" cy="344" r="70"/></svg></div><div class="a t " style="left:43px;top:252.4px;font-size:15.2px;-webkit-text-stroke:.35px;color:#e6e9eb">Materials</div><div class="a" style="left:0px;top:279.7px;width:243.5px;height:38.5px;background:#007bff"></div><div class="a" style="left:11.5px;top:289.7px;width:25px;height:19px;color:#fff"><svg viewBox="0 0 640 512" width="25" height="19" fill="currentColor" ><path d="M140 360h250a110 110 0 0 1 140-150 110 110 0 0 0-100-70 150 150 0 0 0-280-20A130 130 0 0 0 140 360z"/><circle cx="490" cy="380" r="100"/><circle cx="490" cy="380" r="38" fill="#007bff"/></svg></div><div class="a t " style="left:43px;top:289.7px;font-size:15.2px;-webkit-text-stroke:.35px;color:#fff">CRM</div><div class="a" style="left:217.5px;top:293.2px;width:13px;height:13px;color:#fff"><svg viewBox="0 0 448 512" width="13" height="13" fill="currentColor" ><path d="M207 381 13 187a24 24 0 0 1 0-34l23-23a24 24 0 0 1 34 0l154 153 154-153a24 24 0 0 1 34 0l23 23a24 24 0 0 1 0 34L241 381a24 24 0 0 1-34 0z"/></svg></div><div class="a" style="left:0px;top:320.2px;width:243.5px;height:36px;background:#e9eaeb"></div><div class="a" style="left:17px;top:329.7px;width:15px;height:19px;color:#343a40"><svg viewBox="0 0 448 512" width="15" height="19" fill="currentColor" ><path d="M400 0H48C22 0 0 22 0 48v416c0 26 22 48 48 48h352c26 0 48-22 48-48V48c0-26-22-48-48-48zM128 436c0 6-6 12-12 12H76c-6 0-12-6-12-12v-40c0-6 6-12 12-12h40c6 0 12 6 12 12zm0-128c0 6-6 12-12 12H76c-6 0-12-6-12-12v-40c0-6 6-12 12-12h40c6 0 12 6 12 12zm128 128c0 6-6 12-12 12h-40c-6 0-12-6-12-12v-40c0-6 6-12 12-12h40c6 0 12 6 12 12zm0-128c0 6-6 12-12 12h-40c-6 0-12-6-12-12v-40c0-6 6-12 12-12h40c6 0 12 6 12 12zm128 128c0 6-6 12-12 12h-40c-6 0-12-6-12-12V268c0-6 6-12 12-12h40c6 0 12 6 12 12zm0-256c0 6-6 12-12 12H76c-6 0-12-6-12-12V76c0-6 6-12 12-12h296c6 0 12 6 12 12z"/></svg></div><div class="a t " style="left:43.5px;top:330.2px;font-size:15.2px;-webkit-text-stroke:.35px;color:#343a40">Estimates</div><div class="a" style="left:16px;top:368.7px;width:15px;height:19px;color:#e3e6e8"><svg viewBox="0 0 448 512" width="15" height="19" fill="currentColor" ><path d="M400 0H48C22 0 0 22 0 48v416c0 26 22 48 48 48h352c26 0 48-22 48-48V48c0-26-22-48-48-48zM128 436c0 6-6 12-12 12H76c-6 0-12-6-12-12v-40c0-6 6-12 12-12h40c6 0 12 6 12 12zm0-128c0 6-6 12-12 12H76c-6 0-12-6-12-12v-40c0-6 6-12 12-12h40c6 0 12 6 12 12zm128 128c0 6-6 12-12 12h-40c-6 0-12-6-12-12v-40c0-6 6-12 12-12h40c6 0 12 6 12 12zm0-128c0 6-6 12-12 12h-40c-6 0-12-6-12-12v-40c0-6 6-12 12-12h40c6 0 12 6 12 12zm128 128c0 6-6 12-12 12h-40c-6 0-12-6-12-12V268c0-6 6-12 12-12h40c6 0 12 6 12 12zm0-256c0 6-6 12-12 12H76c-6 0-12-6-12-12V76c0-6 6-12 12-12h296c6 0 12 6 12 12z"/></svg></div><div class="a t " style="left:44.5px;top:369.2px;font-size:15.2px;-webkit-text-stroke:.35px;color:#e3e6e8">Enquiries</div><div class="a" style="left:224px;top:448.2px;width:2.5px;height:2.5px;background:#cfd3d6;border-radius:50%"></div><div class="a" style="left:224px;top:454.7px;width:2.5px;height:2.5px;background:#cfd3d6;border-radius:50%"></div><div class="a" style="left:226px;top:487.7px;width:2.5px;height:2.5px;background:#737a80;border-radius:50%"></div><div class="a" style="left:226px;top:494.2px;width:2.5px;height:2.5px;background:#737a80;border-radius:50%"></div></div></div></div><div class="strip" style="width:459.20px;height:665.00px;transform:matrix3d(0.49547363,-0.035210975,0,-0.0002982335,0.038241815,0.64681602,0,8.6215931e-05,0,0,1,0,245.58208,34.546622,0,0.85386559)"><div class="flat" style="transform:scale(0.7) translate(-700px,0)"><div class="a screen" style="left:26px;top:27.3px;width:1942.5px;height:898.2px"><div class="a" style="left:243.5px;top:42.7px;width:1699.0px;height:855.5px;background:#eaedf0"></div><div class="a" style="left:243.5px;top:0.0px;width:1703.0px;height:42.7px;background:#f7f7f7"></div><div class="a" style="left:269.5px;top:8.2px;width:15px;height:17px;color:#555"><svg viewBox="0 0 448 512" width="15" height="17" fill="currentColor" ><path d="M16 132h416a16 16 0 0 0 16-16V76a16 16 0 0 0-16-16H16A16 16 0 0 0 0 76v40a16 16 0 0 0 16 16zm0 160h416a16 16 0 0 0 16-16v-40a16 16 0 0 0-16-16H16a16 16 0 0 0-16 16v40a16 16 0 0 0 16 16zm0 160h416a16 16 0 0 0 16-16v-40a16 16 0 0 0-16-16H16a16 16 0 0 0-16 16v40a16 16 0 0 0 16 16z"/></svg></div><div class="a t " style="left:317px;top:8.2px;font-size:15.5px;color:#6b6b6b">Home page</div><div class="a t " style="left:429px;top:8.2px;font-size:15.5px;color:#6b6b6b">About</div><div class="a" style="left:1811px;top:12.0px;width:18px;height:13.5px;background:repeating-linear-gradient(#d2554f 0 1.9px,#f2e6e6 1.9px 3.8px);overflow:hidden"><div style="width:8.5px;height:7.5px;background:#4a5fa8"></div></div><div class="a t " style="left:1832.5px;top:9.3px;font-size:16.8px;color:#777;-webkit-text-stroke:.45px;letter-spacing:-.55px">English</div><div class="a" style="left:1916px;top:7.7px;width:20.5px;height:21px;border-radius:50%;overflow:hidden;background:#c9ced2;box-shadow:0 1px 3px rgba(0,0,0,.35)"><svg viewBox="0 0 32 32" width="20.5" height="21" preserveAspectRatio="none"><rect width="32" height="32" fill="#cfd6da"/><path d="M4 32c0-7 5-9 12-9s12 2 12 9z" fill="#3a4046"/><path d="M13 23l3 5 3-5z" fill="#fff"/><path d="M15.300 25h1.400l.8 6h-3z" fill="#c0392b"/><ellipse cx="16" cy="14.500" rx="6.600" ry="8" fill="#f0b48f"/><path d="M8.800 13c-.8-8 3-10.500 7.200-10.500S24 5 23.200 13c-.7-3-1.600-4.300-2.600-5-2 .9-7.400.9-9.300 0-1 .7-1.800 2-2.500 5z" fill="#1f2326"/><ellipse cx="13.300" cy="14.300" rx="1" ry=".8" fill="#333"/><ellipse cx="18.700" cy="14.300" rx="1" ry=".8" fill="#333"/><path d="M13.500 19q2.500 1.500 5 0" stroke="#a5532f" stroke-width=".8" fill="none"/></svg></div><div class="a t " style="left:261.5px;top:61.7px;font-size:27.5px;color:#1f2328">Estimates</div><div class="a t " style="left:262px;top:101.2px;font-size:15.1px"><span style="color:#1a7bf2">Home Page</span><span style="color:#777;padding:0 8px">/</span><span style="color:#1a7bf2">CRM</span><span style="color:#777;padding:0 8px">/</span><span style="color:#6c757d">Estimates</span></div><div class="a" style="left:1598px;top:60.7px;width:91.5px;height:36.5px;background:#0d7bfb;border-radius:4px"></div><div class="a" style="left:1611px;top:71.7px;width:15px;height:15.5px;color:#fff"><svg viewBox="0 0 448 512" width="15" height="15.5" fill="currentColor" ><path d="M400 32H48C22 32 0 54 0 80v352c0 26 22 48 48 48h352c26 0 48-22 48-48V80c0-26-22-48-48-48zm-32 252c0 7-5 12-12 12h-92v92c0 7-5 12-12 12h-56c-7 0-12-5-12-12v-92H92c-7 0-12-5-12-12v-56c0-7 5-12 12-12h92v-92c0-7 5-12 12-12h56c7 0 12 5 12 12v92h92c7 0 12 5 12 12z"/></svg></div><div class="a t " style="left:1630px;top:71.0px;font-size:15px;color:#fff;-webkit-text-stroke:.5px">Create</div><div class="a" style="left:1695.5px;top:60.7px;width:189px;height:36px;background:#0d7bfb;border-radius:4px"></div><div class="a" style="left:1709px;top:71.2px;width:20px;height:16px;color:#fff"><svg viewBox="0 0 576 512" width="20" height="16" fill="currentColor" ><path d="M572 242C518 136 411 64 288 64S58 136 3 242a32 32 0 0 0 0 29c54 106 162 177 285 177s230-72 285-177a32 32 0 0 0-1-29zM288 400a144 144 0 1 1 144-144 144 144 0 0 1-144 144zm0-240a95 95 0 0 0-25 4 48 48 0 0 1-67 67 96 96 0 1 0 92-71z"/></svg></div><div class="a t " style="left:1733px;top:70.5px;font-size:15px;color:#fff;-webkit-text-stroke:.5px">Show Deleted Items</div><div class="a" style="left:1891.5px;top:62.7px;width:23px;height:29px"><svg viewBox="0 0 25 29" width="23" height="29" preserveAspectRatio="none"><path d="M2.500 0H13.500V8.500a2 2 0 0 0 2 2H25V26.500a2.500 2.500 0 0 1-2.500 2.500H2.500A2.500 2.500 0 0 1 0 26.500V2.500A2.500 2.500 0 0 1 2.500 0z" fill="#dc3040"/><path d="M15.500 0 25 8.500H15.500z" fill="#dc3040"/><path d="M5 23.500c3.500-1.500 6.500-6 7.300-11.500.3-2-1.800-2-1.500 0 .8 5 4 8 9 8.500 1.800.2 1.800-1.800 0-1.800-5 0-11 2-14.800 4.800z" fill="none" stroke="#fff" stroke-width="1.900"/></svg></div><div class="a" style="left:1927px;top:62.7px;width:23px;height:29px"><svg viewBox="0 0 25 29" width="23" height="29" preserveAspectRatio="none"><path d="M2.500 0H13.500V8.500a2 2 0 0 0 2 2H25V26.500a2.500 2.500 0 0 1-2.500 2.500H2.500A2.500 2.500 0 0 1 0 26.500V2.500A2.500 2.500 0 0 1 2.500 0z" fill="#21a03a"/><path d="M15.500 0 25 8.500H15.500z" fill="#21a03a"/><path d="M7.500 13l9 12M16.500 13l-9 12" stroke="#fff" stroke-width="3.200"/></svg></div><div class="a" style="left:261px;top:140.2px;width:1685.5px;height:726.5px;background:#f7f7f7;box-shadow:-1px -1px 2px rgba(0,0,0,.10)"></div><div class="a t " style="left:1680px;top:187.2px;font-size:13.4px;color:#333">Search:</div><div class="a" style="left:1732.5px;top:180.7px;width:180.5px;height:29px;border:1.5px solid #ced4da;border-radius:4px;background:#fafafa;box-sizing:border-box"></div><div class="a" style="left:303px;top:225.7px;width:1610px;height:545.5px;background:#f9f9f9"></div><div class="a" style="left:303px;top:263.7px;width:1610px;height:50.75px;background:#ebebeb"></div><div class="a" style="left:303px;top:313.9px;width:1610px;height:1px;background:#e2e5e8"></div><div class="a" style="left:303px;top:365.2px;width:1610px;height:50.75px;background:#ebebeb"></div><div class="a" style="left:303px;top:364.7px;width:1610px;height:1px;background:#e2e5e8"></div><div class="a" style="left:303px;top:415.4px;width:1610px;height:1px;background:#e2e5e8"></div><div class="a" style="left:303px;top:466.7px;width:1610px;height:50.75px;background:#ebebeb"></div><div class="a" style="left:303px;top:466.2px;width:1610px;height:1px;background:#e2e5e8"></div><div class="a" style="left:303px;top:517.0px;width:1610px;height:1px;background:#e2e5e8"></div><div class="a" style="left:303px;top:568.2px;width:1610px;height:50.75px;background:#ebebeb"></div><div class="a" style="left:303px;top:567.7px;width:1610px;height:1px;background:#e2e5e8"></div><div class="a" style="left:303px;top:618.5px;width:1610px;height:1px;background:#e2e5e8"></div><div class="a" style="left:303px;top:669.7px;width:1610px;height:50.75px;background:#ebebeb"></div><div class="a" style="left:303px;top:669.2px;width:1610px;height:1px;background:#e2e5e8"></div><div class="a" style="left:303px;top:720.0px;width:1610px;height:1px;background:#e2e5e8"></div><div class="a" style="left:303px;top:225.2px;width:1610px;height:1.2px;background:#d9dde1"></div><div class="a" style="left:303px;top:262.5px;width:1610px;height:2.4px;background:#cfd5da"></div><div class="a" style="left:303px;top:770.7px;width:1610px;height:1px;background:#e2e5e8"></div><div class="a" style="left:302.4px;top:225.7px;width:1.2px;height:545.5px;background:#e2e5e8"></div><div class="a" style="left:378.4px;top:225.7px;width:1.2px;height:545.5px;background:#e2e5e8"></div><div class="a" style="left:578.4px;top:225.7px;width:1.2px;height:545.5px;background:#e2e5e8"></div><div class="a" style="left:753.9px;top:225.7px;width:1.2px;height:545.5px;background:#e2e5e8"></div><div class="a" style="left:944.4px;top:225.7px;width:1.2px;height:545.5px;background:#e2e5e8"></div><div class="a" style="left:1221.9px;top:225.7px;width:1.2px;height:545.5px;background:#e2e5e8"></div><div class="a" style="left:1429.9px;top:225.7px;width:1.2px;height:545.5px;background:#e2e5e8"></div><div class="a" style="left:1579.4px;top:225.7px;width:1.2px;height:545.5px;background:#e2e5e8"></div><div class="a" style="left:1738.4px;top:225.7px;width:1.2px;height:545.5px;background:#e2e5e8"></div><div class="a" style="left:1912.4px;top:225.7px;width:1.2px;height:545.5px;background:#e2e5e8"></div><div class="a t b" style="left:312.5px;top:235.7px;font-size:13.8px;color:#111">No#</div><div class="a t b" style="left:388.5px;top:235.7px;font-size:13.8px;color:#111">Estimate Id</div><div class="a" style="left:556px;top:235.7px"><svg viewBox="0 0 16 11" width="16" height="11" fill="currentColor" ><path d="M4.500 10.500V1.500M1.200 4.800 4.500 1.300 7.800 4.800" stroke="#b9b9b9" stroke-width="1.700" fill="none"/><path d="M11.500 .5v9M8.200 6.200 11.500 9.700 14.800 6.200" stroke="#c6c6c6" stroke-width="1.700" fill="none"/></svg></div><div class="a t b" style="left:588.5px;top:235.7px;font-size:13.8px;color:#111">Design Id</div><div class="a" style="left:731.5px;top:235.7px"><svg viewBox="0 0 16 11" width="16" height="11" fill="currentColor" ><path d="M4.500 10.500V1.500M1.200 4.800 4.500 1.300 7.800 4.800" stroke="#b9b9b9" stroke-width="1.700" fill="none"/><path d="M11.500 .5v9M8.200 6.200 11.500 9.700 14.800 6.200" stroke="#c6c6c6" stroke-width="1.700" fill="none"/></svg></div><div class="a t b" style="left:764.0px;top:235.7px;font-size:13.8px;color:#111">Enquiry Id</div><div class="a" style="left:922px;top:235.7px"><svg viewBox="0 0 16 11" width="16" height="11" fill="currentColor" ><path d="M4.500 10.500V1.500M1.200 4.800 4.500 1.300 7.800 4.800" stroke="#b9b9b9" stroke-width="1.700" fill="none"/><path d="M11.500 .5v9M8.200 6.200 11.500 9.700 14.800 6.200" stroke="#c6c6c6" stroke-width="1.700" fill="none"/></svg></div><div class="a t b" style="left:954.5px;top:235.7px;font-size:13.8px;color:#111">Customer Name</div><div class="a" style="left:1199.5px;top:235.7px"><svg viewBox="0 0 16 11" width="16" height="11" fill="currentColor" ><path d="M4.500 10.500V1.500M1.200 4.800 4.500 1.300 7.800 4.800" stroke="#b9b9b9" stroke-width="1.700" fill="none"/><path d="M11.500 .5v9M8.200 6.200 11.500 9.700 14.800 6.200" stroke="#c6c6c6" stroke-width="1.700" fill="none"/></svg></div><div class="a t b" style="left:1232.0px;top:235.7px;font-size:13.8px;color:#111">Net Amount</div><div class="a" style="left:1407.5px;top:235.7px"><svg viewBox="0 0 16 11" width="16" height="11" fill="currentColor" ><path d="M4.500 10.500V1.500M1.200 4.800 4.500 1.300 7.800 4.800" stroke="#b9b9b9" stroke-width="1.700" fill="none"/><path d="M11.500 .5v9M8.200 6.200 11.500 9.700 14.800 6.200" stroke="#c6c6c6" stroke-width="1.700" fill="none"/></svg></div><div class="a t b" style="left:1440.0px;top:235.7px;font-size:13.8px;color:#111">Date</div><div class="a" style="left:1557px;top:235.7px"><svg viewBox="0 0 16 11" width="16" height="11" fill="currentColor" ><path d="M4.500 10.500V1.500M1.200 4.800 4.500 1.300 7.800 4.800" stroke="#b9b9b9" stroke-width="1.700" fill="none"/><path d="M11.500 .5v9M8.200 6.200 11.500 9.700 14.800 6.200" stroke="#c6c6c6" stroke-width="1.700" fill="none"/></svg></div><div class="a t b" style="left:1589.5px;top:235.7px;font-size:13.8px;color:#111">Status</div><div class="a" style="left:1716px;top:235.7px"><svg viewBox="0 0 16 11" width="16" height="11" fill="currentColor" ><path d="M4.500 10.500V1.500M1.200 4.800 4.500 1.300 7.800 4.800" stroke="#b9b9b9" stroke-width="1.700" fill="none"/><path d="M11.500 .5v9M8.200 6.200 11.500 9.700 14.800 6.200" stroke="#c6c6c6" stroke-width="1.700" fill="none"/></svg></div><div class="a t b" style="left:1748.5px;top:235.7px;font-size:13.8px;color:#111">Actions</div><div class="a t " style="left:312.5px;top:282.3px;font-size:13.2px;color:#222;letter-spacing:-.35px">1</div><div class="a t " style="left:388.8px;top:282.3px;font-size:13.2px;color:#222;letter-spacing:-.35px">EST0034</div><div class="a t " style="left:588.2px;top:282.3px;font-size:13.2px;color:#1b7af0;letter-spacing:-.35px">0035</div><div class="a t " style="left:778px;top:282.3px;font-size:13.2px;color:#1b7af0;letter-spacing:-.35px">ENQ0035</div><div class="a t " style="left:953.3px;top:282.0px;font-size:13.8px;color:#222">New Customer</div><div class="a t " style="left:1233.2px;top:282.3px;font-size:13.2px;color:#222;letter-spacing:-.35px">2242</div><div class="a t " style="left:1440.7px;top:282.3px;font-size:13.2px;color:#222;letter-spacing:-.35px">2025-08-24</div><div class="a t b" style="left:1590px;top:282.3px;font-size:13.4px;color:#e83ae0">Production</div><div class="a" style="left:1747.5px;top:276.1px;width:35.3px;height:28px;background:#26a343;border-radius:3.5px"></div><div class="a" style="left:1756.5px;top:282.6px;width:18px;height:15px;color:#fff"><svg viewBox="0 0 576 512" width="18" height="15" fill="currentColor" ><path d="M572 242C518 136 411 64 288 64S58 136 3 242a32 32 0 0 0 0 29c54 106 162 177 285 177s230-72 285-177a32 32 0 0 0-1-29zM288 400a144 144 0 1 1 144-144 144 144 0 0 1-144 144zm0-240a95 95 0 0 0-25 4 48 48 0 0 1-67 67 96 96 0 1 0 92-71z"/></svg></div><div class="a" style="left:1784.3px;top:276.1px;width:32.2px;height:28px;background:#da3243;border-radius:3.5px"></div><div class="a" style="left:1794.3px;top:282.6px;width:13px;height:15px;color:#fff"><svg viewBox="0 0 448 512" width="13" height="15" fill="currentColor" ><path d="M432 32H312l-9-19a24 24 0 0 0-22-13H167a24 24 0 0 0-21 13l-10 19H16A16 16 0 0 0 0 48v32a16 16 0 0 0 16 16h416a16 16 0 0 0 16-16V48a16 16 0 0 0-16-16zM53 467a48 48 0 0 0 48 45h246a48 48 0 0 0 48-45l21-339H32z"/></svg></div><div class="a t " style="left:312.5px;top:333.0px;font-size:13.2px;color:#222;letter-spacing:-.35px">2</div><div class="a t " style="left:388.8px;top:333.0px;font-size:13.2px;color:#222;letter-spacing:-.35px">EST0033</div><div class="a t " style="left:588.2px;top:333.0px;font-size:13.2px;color:#1b7af0;letter-spacing:-.35px">0032</div><div class="a t " style="left:778px;top:333.0px;font-size:13.2px;color:#1b7af0;letter-spacing:-.35px">ENQ0032</div><div class="a t " style="left:953.3px;top:332.7px;font-size:13.8px;color:#222">New Customer</div><div class="a t " style="left:1233.2px;top:333.0px;font-size:13.2px;color:#222;letter-spacing:-.35px">531</div><div class="a t " style="left:1440.7px;top:333.0px;font-size:13.2px;color:#222;letter-spacing:-.35px">2025-08-21</div><div class="a t b" style="left:1590px;top:333.0px;font-size:13.4px;color:#2d5bd8">Won</div><div class="a" style="left:1747.5px;top:326.8px;width:35.3px;height:28px;background:#26a343;border-radius:3.5px"></div><div class="a" style="left:1756.5px;top:333.3px;width:18px;height:15px;color:#fff"><svg viewBox="0 0 576 512" width="18" height="15" fill="currentColor" ><path d="M572 242C518 136 411 64 288 64S58 136 3 242a32 32 0 0 0 0 29c54 106 162 177 285 177s230-72 285-177a32 32 0 0 0-1-29zM288 400a144 144 0 1 1 144-144 144 144 0 0 1-144 144zm0-240a95 95 0 0 0-25 4 48 48 0 0 1-67 67 96 96 0 1 0 92-71z"/></svg></div><div class="a t " style="left:312.5px;top:383.8px;font-size:13.2px;color:#222;letter-spacing:-.35px">3</div><div class="a t " style="left:388.8px;top:383.8px;font-size:13.2px;color:#222;letter-spacing:-.35px">EST0032</div><div class="a t " style="left:588.2px;top:383.8px;font-size:13.2px;color:#1b7af0;letter-spacing:-.35px">0034</div><div class="a t " style="left:778px;top:383.8px;font-size:13.2px;color:#1b7af0;letter-spacing:-.35px">ENQ0034</div><div class="a t " style="left:953.3px;top:383.5px;font-size:13.8px;color:#222">Thomson International</div><div class="a t " style="left:1233.2px;top:383.8px;font-size:13.2px;color:#222;letter-spacing:-.35px">1770</div><div class="a t " style="left:1440.7px;top:383.8px;font-size:13.2px;color:#222;letter-spacing:-.35px">2025-08-21</div><div class="a t b" style="left:1590px;top:383.8px;font-size:13.4px;color:#79b7e3">Draft</div><div class="a" style="left:1747.5px;top:377.6px;width:34px;height:28px;background:#62696f;border-radius:3.5px"></div><div class="a" style="left:1757.5px;top:384.6px;width:14px;height:14px;color:#fff"><svg viewBox="0 0 512 512" width="14" height="14" fill="currentColor" ><path d="M498 142l-46 46c-5 5-12 5-17 0L324 77c-5-5-5-12 0-17l46-46c19-19 49-19 68 0l60 60c19 19 19 49 0 68zM285 99 23 361 2 482c-3 17 12 31 28 28l121-21 262-262c5-5 5-12 0-17L302 99c-5-5-12-5-17 0z"/></svg></div><div class="a" style="left:1783.0px;top:377.6px;width:35.3px;height:28px;background:#26a343;border-radius:3.5px"></div><div class="a" style="left:1792.0px;top:384.1px;width:18px;height:15px;color:#fff"><svg viewBox="0 0 576 512" width="18" height="15" fill="currentColor" ><path d="M572 242C518 136 411 64 288 64S58 136 3 242a32 32 0 0 0 0 29c54 106 162 177 285 177s230-72 285-177a32 32 0 0 0-1-29zM288 400a144 144 0 1 1 144-144 144 144 0 0 1-144 144zm0-240a95 95 0 0 0-25 4 48 48 0 0 1-67 67 96 96 0 1 0 92-71z"/></svg></div><div class="a" style="left:1819.8px;top:377.6px;width:32.2px;height:28px;background:#da3243;border-radius:3.5px"></div><div class="a" style="left:1829.8px;top:384.1px;width:13px;height:15px;color:#fff"><svg viewBox="0 0 448 512" width="13" height="15" fill="currentColor" ><path d="M432 32H312l-9-19a24 24 0 0 0-22-13H167a24 24 0 0 0-21 13l-10 19H16A16 16 0 0 0 0 48v32a16 16 0 0 0 16 16h416a16 16 0 0 0 16-16V48a16 16 0 0 0-16-16zM53 467a48 48 0 0 0 48 45h246a48 48 0 0 0 48-45l21-339H32z"/></svg></div><div class="a t " style="left:312.5px;top:434.5px;font-size:13.2px;color:#222;letter-spacing:-.35px">4</div><div class="a t " style="left:388.8px;top:434.5px;font-size:13.2px;color:#222;letter-spacing:-.35px">EST0031</div><div class="a t " style="left:588.2px;top:434.5px;font-size:13.2px;color:#1b7af0;letter-spacing:-.35px">0033</div><div class="a t " style="left:778px;top:434.5px;font-size:13.2px;color:#1b7af0;letter-spacing:-.35px">ENQ0033</div><div class="a t " style="left:953.3px;top:434.2px;font-size:13.8px;color:#222">Thomson International</div><div class="a t " style="left:1233.2px;top:434.5px;font-size:13.2px;color:#222;letter-spacing:-.35px">2065</div><div class="a t " style="left:1440.7px;top:434.5px;font-size:13.2px;color:#222;letter-spacing:-.35px">2025-08-14</div><div class="a t b" style="left:1590px;top:434.5px;font-size:13.4px;color:#2d5bd8">Won</div><div class="a" style="left:1747.5px;top:428.3px;width:35.3px;height:28px;background:#26a343;border-radius:3.5px"></div><div class="a" style="left:1756.5px;top:434.8px;width:18px;height:15px;color:#fff"><svg viewBox="0 0 576 512" width="18" height="15" fill="currentColor" ><path d="M572 242C518 136 411 64 288 64S58 136 3 242a32 32 0 0 0 0 29c54 106 162 177 285 177s230-72 285-177a32 32 0 0 0-1-29zM288 400a144 144 0 1 1 144-144 144 144 0 0 1-144 144zm0-240a95 95 0 0 0-25 4 48 48 0 0 1-67 67 96 96 0 1 0 92-71z"/></svg></div><div class="a t " style="left:312.5px;top:485.3px;font-size:13.2px;color:#222;letter-spacing:-.35px">5</div><div class="a t " style="left:388.8px;top:485.3px;font-size:13.2px;color:#222;letter-spacing:-.35px">EST0030</div><div class="a t " style="left:588.2px;top:485.3px;font-size:13.2px;color:#1b7af0;letter-spacing:-.35px">0031</div><div class="a t " style="left:778px;top:485.3px;font-size:13.2px;color:#1b7af0;letter-spacing:-.35px">ENQ0031</div><div class="a t " style="left:953.3px;top:485.0px;font-size:13.8px;color:#222">New Customer</div><div class="a t " style="left:1233.2px;top:485.3px;font-size:13.2px;color:#222;letter-spacing:-.35px">413</div><div class="a t " style="left:1440.7px;top:485.3px;font-size:13.2px;color:#222;letter-spacing:-.35px">2025-08-10</div><div class="a t b" style="left:1590px;top:485.3px;font-size:13.4px;color:#e83ae0">Production</div><div class="a" style="left:1747.5px;top:479.1px;width:35.3px;height:28px;background:#26a343;border-radius:3.5px"></div><div class="a" style="left:1756.5px;top:485.6px;width:18px;height:15px;color:#fff"><svg viewBox="0 0 576 512" width="18" height="15" fill="currentColor" ><path d="M572 242C518 136 411 64 288 64S58 136 3 242a32 32 0 0 0 0 29c54 106 162 177 285 177s230-72 285-177a32 32 0 0 0-1-29zM288 400a144 144 0 1 1 144-144 144 144 0 0 1-144 144zm0-240a95 95 0 0 0-25 4 48 48 0 0 1-67 67 96 96 0 1 0 92-71z"/></svg></div><div class="a" style="left:1784.3px;top:479.1px;width:32.2px;height:28px;background:#da3243;border-radius:3.5px"></div><div class="a" style="left:1794.3px;top:485.6px;width:13px;height:15px;color:#fff"><svg viewBox="0 0 448 512" width="13" height="15" fill="currentColor" ><path d="M432 32H312l-9-19a24 24 0 0 0-22-13H167a24 24 0 0 0-21 13l-10 19H16A16 16 0 0 0 0 48v32a16 16 0 0 0 16 16h416a16 16 0 0 0 16-16V48a16 16 0 0 0-16-16zM53 467a48 48 0 0 0 48 45h246a48 48 0 0 0 48-45l21-339H32z"/></svg></div><div class="a t " style="left:312.5px;top:536.0px;font-size:13.2px;color:#222;letter-spacing:-.35px">6</div><div class="a t " style="left:388.8px;top:536.0px;font-size:13.2px;color:#222;letter-spacing:-.35px">EST0029</div><div class="a t " style="left:588.2px;top:536.0px;font-size:13.2px;color:#1b7af0;letter-spacing:-.35px">0030</div><div class="a t " style="left:778px;top:536.0px;font-size:13.2px;color:#1b7af0;letter-spacing:-.35px">ENQ0030</div><div class="a t " style="left:953.3px;top:535.7px;font-size:13.8px;color:#222">New Customer</div><div class="a t " style="left:1233.2px;top:536.0px;font-size:13.2px;color:#222;letter-spacing:-.35px">1492.7</div><div class="a t " style="left:1440.7px;top:536.0px;font-size:13.2px;color:#222;letter-spacing:-.35px">2025-08-01</div><div class="a t b" style="left:1590px;top:536.0px;font-size:13.4px;color:#2d5bd8">Won</div><div class="a" style="left:1747.5px;top:529.8px;width:35.3px;height:28px;background:#26a343;border-radius:3.5px"></div><div class="a" style="left:1756.5px;top:536.3px;width:18px;height:15px;color:#fff"><svg viewBox="0 0 576 512" width="18" height="15" fill="currentColor" ><path d="M572 242C518 136 411 64 288 64S58 136 3 242a32 32 0 0 0 0 29c54 106 162 177 285 177s230-72 285-177a32 32 0 0 0-1-29zM288 400a144 144 0 1 1 144-144 144 144 0 0 1-144 144zm0-240a95 95 0 0 0-25 4 48 48 0 0 1-67 67 96 96 0 1 0 92-71z"/></svg></div><div class="a t " style="left:312.5px;top:586.8px;font-size:13.2px;color:#222;letter-spacing:-.35px">7</div><div class="a t " style="left:388.8px;top:586.8px;font-size:13.2px;color:#222;letter-spacing:-.35px">EST0028</div><div class="a t " style="left:588.2px;top:586.8px;font-size:13.2px;color:#1b7af0;letter-spacing:-.35px">0029</div><div class="a t " style="left:778px;top:586.8px;font-size:13.2px;color:#1b7af0;letter-spacing:-.35px">ENQ0029</div><div class="a t " style="left:953.3px;top:586.5px;font-size:13.8px;color:#222">Thomson International</div><div class="a t " style="left:1233.2px;top:586.8px;font-size:13.2px;color:#222;letter-spacing:-.35px">1510.4</div><div class="a t " style="left:1440.7px;top:586.8px;font-size:13.2px;color:#222;letter-spacing:-.35px">2025-08-01</div><div class="a t b" style="left:1590px;top:586.8px;font-size:13.4px;color:#2d5bd8">Won</div><div class="a" style="left:1747.5px;top:580.6px;width:35.3px;height:28px;background:#26a343;border-radius:3.5px"></div><div class="a" style="left:1756.5px;top:587.1px;width:18px;height:15px;color:#fff"><svg viewBox="0 0 576 512" width="18" height="15" fill="currentColor" ><path d="M572 242C518 136 411 64 288 64S58 136 3 242a32 32 0 0 0 0 29c54 106 162 177 285 177s230-72 285-177a32 32 0 0 0-1-29zM288 400a144 144 0 1 1 144-144 144 144 0 0 1-144 144zm0-240a95 95 0 0 0-25 4 48 48 0 0 1-67 67 96 96 0 1 0 92-71z"/></svg></div><div class="a t " style="left:312.5px;top:637.5px;font-size:13.2px;color:#222;letter-spacing:-.35px">8</div><div class="a t " style="left:388.8px;top:637.5px;font-size:13.2px;color:#222;letter-spacing:-.35px">EST0027</div><div class="a t " style="left:588.2px;top:637.5px;font-size:13.2px;color:#1b7af0;letter-spacing:-.35px">0028</div><div class="a t " style="left:778px;top:637.5px;font-size:13.2px;color:#1b7af0;letter-spacing:-.35px">ENQ0028</div><div class="a t " style="left:953.3px;top:637.2px;font-size:13.8px;color:#222">Thomson International</div><div class="a t " style="left:1233.2px;top:637.5px;font-size:13.2px;color:#222;letter-spacing:-.35px">1498.6</div><div class="a t " style="left:1440.7px;top:637.5px;font-size:13.2px;color:#222;letter-spacing:-.35px">2025-08-01</div><div class="a t b" style="left:1590px;top:637.5px;font-size:13.4px;color:#79b7e3">Draft</div><div class="a" style="left:1747.5px;top:631.3px;width:34px;height:28px;background:#62696f;border-radius:3.5px"></div><div class="a" style="left:1757.5px;top:638.3px;width:14px;height:14px;color:#fff"><svg viewBox="0 0 512 512" width="14" height="14" fill="currentColor" ><path d="M498 142l-46 46c-5 5-12 5-17 0L324 77c-5-5-5-12 0-17l46-46c19-19 49-19 68 0l60 60c19 19 19 49 0 68zM285 99 23 361 2 482c-3 17 12 31 28 28l121-21 262-262c5-5 5-12 0-17L302 99c-5-5-12-5-17 0z"/></svg></div><div class="a" style="left:1783.0px;top:631.3px;width:35.3px;height:28px;background:#26a343;border-radius:3.5px"></div><div class="a" style="left:1792.0px;top:637.8px;width:18px;height:15px;color:#fff"><svg viewBox="0 0 576 512" width="18" height="15" fill="currentColor" ><path d="M572 242C518 136 411 64 288 64S58 136 3 242a32 32 0 0 0 0 29c54 106 162 177 285 177s230-72 285-177a32 32 0 0 0-1-29zM288 400a144 144 0 1 1 144-144 144 144 0 0 1-144 144zm0-240a95 95 0 0 0-25 4 48 48 0 0 1-67 67 96 96 0 1 0 92-71z"/></svg></div><div class="a" style="left:1819.8px;top:631.3px;width:32.2px;height:28px;background:#da3243;border-radius:3.5px"></div><div class="a" style="left:1829.8px;top:637.8px;width:13px;height:15px;color:#fff"><svg viewBox="0 0 448 512" width="13" height="15" fill="currentColor" ><path d="M432 32H312l-9-19a24 24 0 0 0-22-13H167a24 24 0 0 0-21 13l-10 19H16A16 16 0 0 0 0 48v32a16 16 0 0 0 16 16h416a16 16 0 0 0 16-16V48a16 16 0 0 0-16-16zM53 467a48 48 0 0 0 48 45h246a48 48 0 0 0 48-45l21-339H32z"/></svg></div><div class="a t " style="left:312.5px;top:688.3px;font-size:13.2px;color:#222;letter-spacing:-.35px">9</div><div class="a t " style="left:388.8px;top:688.3px;font-size:13.2px;color:#222;letter-spacing:-.35px">EST0026</div><div class="a t " style="left:588.2px;top:688.3px;font-size:13.2px;color:#1b7af0;letter-spacing:-.35px">0027</div><div class="a t " style="left:778px;top:688.3px;font-size:13.2px;color:#1b7af0;letter-spacing:-.35px">ENQ0027</div><div class="a t " style="left:953.3px;top:688.0px;font-size:13.8px;color:#222">Thomson International</div><div class="a t " style="left:1233.2px;top:688.3px;font-size:13.2px;color:#222;letter-spacing:-.35px">1416</div><div class="a t " style="left:1440.7px;top:688.3px;font-size:13.2px;color:#222;letter-spacing:-.35px">2025-07-30</div><div class="a t b" style="left:1590px;top:688.3px;font-size:13.4px;color:#e83ae0">Production</div><div class="a" style="left:1747.5px;top:682.1px;width:35.3px;height:28px;background:#26a343;border-radius:3.5px"></div><div class="a" style="left:1756.5px;top:688.6px;width:18px;height:15px;color:#fff"><svg viewBox="0 0 576 512" width="18" height="15" fill="currentColor" ><path d="M572 242C518 136 411 64 288 64S58 136 3 242a32 32 0 0 0 0 29c54 106 162 177 285 177s230-72 285-177a32 32 0 0 0-1-29zM288 400a144 144 0 1 1 144-144 144 144 0 0 1-144 144zm0-240a95 95 0 0 0-25 4 48 48 0 0 1-67 67 96 96 0 1 0 92-71z"/></svg></div><div class="a" style="left:1784.3px;top:682.1px;width:32.2px;height:28px;background:#da3243;border-radius:3.5px"></div><div class="a" style="left:1794.3px;top:688.6px;width:13px;height:15px;color:#fff"><svg viewBox="0 0 448 512" width="13" height="15" fill="currentColor" ><path d="M432 32H312l-9-19a24 24 0 0 0-22-13H167a24 24 0 0 0-21 13l-10 19H16A16 16 0 0 0 0 48v32a16 16 0 0 0 16 16h416a16 16 0 0 0 16-16V48a16 16 0 0 0-16-16zM53 467a48 48 0 0 0 48 45h246a48 48 0 0 0 48-45l21-339H32z"/></svg></div><div class="a t " style="left:312.5px;top:739.0px;font-size:13.2px;color:#222;letter-spacing:-.35px">10</div><div class="a t " style="left:388.8px;top:739.0px;font-size:13.2px;color:#222;letter-spacing:-.35px">EST0025</div><div class="a t " style="left:588.2px;top:739.0px;font-size:13.2px;color:#1b7af0;letter-spacing:-.35px">0026</div><div class="a t " style="left:778px;top:739.0px;font-size:13.2px;color:#1b7af0;letter-spacing:-.35px">ENQ0026</div><div class="a t " style="left:953.3px;top:738.7px;font-size:13.8px;color:#222">Thomson International</div><div class="a t " style="left:1233.2px;top:739.0px;font-size:13.2px;color:#222;letter-spacing:-.35px">1416</div><div class="a t " style="left:1440.7px;top:739.0px;font-size:13.2px;color:#222;letter-spacing:-.35px">2025-07-25</div><div class="a t b" style="left:1590px;top:739.0px;font-size:13.4px;color:#2d5bd8">Won</div><div class="a" style="left:1747.5px;top:732.8px;width:35.3px;height:28px;background:#26a343;border-radius:3.5px"></div><div class="a" style="left:1756.5px;top:739.3px;width:18px;height:15px;color:#fff"><svg viewBox="0 0 576 512" width="18" height="15" fill="currentColor" ><path d="M572 242C518 136 411 64 288 64S58 136 3 242a32 32 0 0 0 0 29c54 106 162 177 285 177s230-72 285-177a32 32 0 0 0-1-29zM288 400a144 144 0 1 1 144-144 144 144 0 0 1-144 144zm0-240a95 95 0 0 0-25 4 48 48 0 0 1-67 67 96 96 0 1 0 92-71z"/></svg></div><div class="a t " style="left:444px;top:800.7px;font-size:13.3px;color:#222;letter-spacing:-.3px">1-10 of 34 items</div><div class="a t " style="left:971px;top:792.2px;font-size:13.2px;color:#222">Show</div><div class="a" style="left:1007.5px;top:793.7px;width:60px;height:21px;border:1.2px solid #ced4da;border-radius:3px;box-sizing:border-box;background:#fafafa"></div><div class="a t " style="left:1016px;top:796.7px;font-size:11.5px;color:#444">10</div><div class="a" style="left:1050px;top:799.2px"><svg width="7" height="10" viewBox="0 0 7 10"><path d="M3.500 0 6.500 4H.5zM3.500 10 .5 6h6z" fill="#333"/></svg></div><div class="a t " style="left:1071.5px;top:794.7px;font-size:13.2px;color:#222">entries</div><div class="a" style="left:1708px;top:788.7px;width:202.5px;height:34px;background:#fbfbfb;border:1px solid #dde1e5;border-radius:4px;box-sizing:border-box"></div><div class="a" style="left:1742.0px;top:788.7px;width:1px;height:34px;background:#dde1e5"></div><div class="a" style="left:1777.5px;top:788.7px;width:1px;height:34px;background:#dde1e5"></div><div class="a" style="left:1809.1px;top:788.7px;width:1px;height:34px;background:#dde1e5"></div><div class="a" style="left:1842.1px;top:788.7px;width:1px;height:34px;background:#dde1e5"></div><div class="a" style="left:1875.2px;top:788.7px;width:1px;height:34px;background:#dde1e5"></div><div class="a" style="left:1742.5px;top:788.7px;width:35.5px;height:34px;background:#0d7bfb"></div><div class="a" style="left:1719.8px;top:797.7px"><svg width="11" height="16" viewBox="0 0 11 16"><path d="M8.500 2 2.500 8l6 6" fill="none" stroke="#3c4248" stroke-width="2.600"/></svg></div><div class="a t" style="left:1745.2px;top:788.7px;width:30px;height:34px;line-height:35px;text-align:center;font-size:13.5px;color:#fff">1</div><div class="a t" style="left:1778.8px;top:788.7px;width:30px;height:34px;line-height:35px;text-align:center;font-size:13.5px;color:#1a7bf2">2</div><div class="a t" style="left:1811.1px;top:788.7px;width:30px;height:34px;line-height:35px;text-align:center;font-size:13.5px;color:#1a7bf2">3</div><div class="a t" style="left:1844.2px;top:788.7px;width:30px;height:34px;line-height:35px;text-align:center;font-size:13.5px;color:#1a7bf2">4</div><div class="a" style="left:1887.6px;top:797.7px"><svg width="11" height="16" viewBox="0 0 11 16"><path d="M2.500 2l6 6-6 6" fill="none" stroke="#0d6ff0" stroke-width="2.600"/></svg></div><div class="a" style="left:243.5px;top:863.2px;width:1703.0px;height:44px;background:#f7f7f7;border-top:3.5px solid #dbe1e7;box-shadow:0 -2px 0 #fbfbfb"></div><div class="a t " style="left:262px;top:889.7px;font-size:15.4px;color:#555">Copyright &copy; 2025 <b style="color:#1a7bf2">ERPack</b>. All rights reserved.</div><div class="a t " style="left:1766px;top:888.7px;font-size:15px;color:#555;white-space:nowrap"><b>Version</b> 8.0.0.0 [20251026]</div><div class="a" style="left:0px;top:0.0px;width:243.5px;height:898.2px;background:#343a40;box-shadow:2px 0 7px rgba(0,0,0,.22)"></div><div class="a" style="left:6px;top:-0.3px;width:13px;height:13px;background:#dfe6ea;border-radius:2px"><div style="margin:3px 2px;width:9px;height:7px;background:#6aa56a;border-radius:1px"></div></div><div class="a t b" style="left:20px;top:-0.8px;font-size:16px;color:#f2f2f2">Logo</div><div class="a t " style="left:74px;top:7.2px;font-size:17.8px;color:#c4c9ce;letter-spacing:-.2px;-webkit-text-stroke:0">ERPack</div><div class="a" style="left:0px;top:42.7px;width:243.5px;height:1px;background:#4b545c"></div><div class="a" style="left:6.7px;top:63.2px;width:32.5px;height:32px;border-radius:50%;overflow:hidden;background:#c9ced2;box-shadow:0 1px 3px rgba(0,0,0,.35)"><svg viewBox="0 0 32 32" width="32.5" height="32" preserveAspectRatio="none"><rect width="32" height="32" fill="#cfd6da"/><path d="M4 32c0-7 5-9 12-9s12 2 12 9z" fill="#3a4046"/><path d="M13 23l3 5 3-5z" fill="#fff"/><path d="M15.300 25h1.400l.8 6h-3z" fill="#c0392b"/><ellipse cx="16" cy="14.500" rx="6.600" ry="8" fill="#f0b48f"/><path d="M8.800 13c-.8-8 3-10.500 7.200-10.500S24 5 23.200 13c-.7-3-1.600-4.300-2.600-5-2 .9-7.400.9-9.300 0-1 .7-1.800 2-2.500 5z" fill="#1f2326"/><ellipse cx="13.300" cy="14.300" rx="1" ry=".8" fill="#333"/><ellipse cx="18.700" cy="14.300" rx="1" ry=".8" fill="#333"/><path d="M13.500 19q2.500 1.500 5 0" stroke="#a5532f" stroke-width=".8" fill="none"/></svg></div><div class="a t " style="left:52px;top:68.7px;font-size:15px;color:#c9cdd1">ERPack\admin</div><div class="a" style="left:8px;top:108.7px;width:228px;height:1px;background:#4f5962"></div><div class="a" style="left:11.5px;top:134.7px;width:23px;height:19px;color:#eceef0"><svg viewBox="0 0 576 512" width="23" height="19" fill="currentColor" ><path d="M280 148 96 300v164a16 16 0 0 0 16 16l112-.3a16 16 0 0 0 16-16V368a16 16 0 0 1 16-16h64a16 16 0 0 1 16 16v95.600a16 16 0 0 0 16 16.100l112 .3a16 16 0 0 0 16-16V300L296 148a12 12 0 0 0-16 0zM572 251l-84-69V44a12 12 0 0 0-12-12h-56a12 12 0 0 0-12 12v73l-89-74a48 48 0 0 0-61 0L4 251a12 12 0 0 0-2 17l26 31a12 12 0 0 0 17 2L280 107a12 12 0 0 1 16 0l236 194a12 12 0 0 0 17-2l26-31a12 12 0 0 0-3-17z"/></svg></div><div class="a t " style="left:43px;top:134.4px;font-size:15.2px;-webkit-text-stroke:.35px;color:#e6e9eb">Home page</div><div class="a" style="left:11.5px;top:174.2px;width:23px;height:19px;color:#eceef0"><svg viewBox="0 0 640 512" width="23" height="19" fill="currentColor" ><circle cx="112" cy="176" r="64"/><circle cx="528" cy="176" r="64"/><circle cx="320" cy="160" r="104"/><path d="M40 260h110c-30 24-44 60-40 100H20v-50c0-30 10-50 20-50zM600 260H490c30 24 44 60 40 100h90v-50c0-30-10-50-20-50zM230 290h180c60 0 90 50 90 100v60c0 20-12 30-30 30H170c-18 0-30-10-30-30v-60c0-50 30-100 90-100z"/></svg></div><div class="a t " style="left:43px;top:173.9px;font-size:15.2px;-webkit-text-stroke:.35px;color:#e6e9eb">Users</div><div class="a" style="left:11.5px;top:213.2px;width:23px;height:19px;color:#eceef0"><svg viewBox="0 0 576 512" width="23" height="19" fill="currentColor" ><circle cx="96" cy="80" r="64"/><circle cx="480" cy="80" r="64"/><path d="M40 170h112c22 0 40 18 40 40v270h-60V340h-72v140H0V210c0-22 18-40 40-40zM424 170h112c22 0 40 18 40 40v270h-60V340h-72v140h-60V210c0-22 18-40 40-40z"/><path d="M200 250h176v56H200z"/></svg></div><div class="a t " style="left:43px;top:212.9px;font-size:15.2px;-webkit-text-stroke:.35px;color:#e6e9eb">Customers</div><div class="a" style="left:11.5px;top:252.7px;width:23px;height:19px;color:#eceef0"><svg viewBox="0 0 512 512" width="23" height="19" fill="currentColor" ><circle cx="256" cy="256" r="70"/><circle cx="256" cy="80" r="70"/><circle cx="256" cy="432" r="70"/><circle cx="104" cy="168" r="70"/><circle cx="408" cy="168" r="70"/><circle cx="104" cy="344" r="70"/><circle cx="408" cy="344" r="70"/></svg></div><div class="a t " style="left:43px;top:252.4px;font-size:15.2px;-webkit-text-stroke:.35px;color:#e6e9eb">Materials</div><div class="a" style="left:0px;top:279.7px;width:243.5px;height:38.5px;background:#007bff"></div><div class="a" style="left:11.5px;top:289.7px;width:25px;height:19px;color:#fff"><svg viewBox="0 0 640 512" width="25" height="19" fill="currentColor" ><path d="M140 360h250a110 110 0 0 1 140-150 110 110 0 0 0-100-70 150 150 0 0 0-280-20A130 130 0 0 0 140 360z"/><circle cx="490" cy="380" r="100"/><circle cx="490" cy="380" r="38" fill="#007bff"/></svg></div><div class="a t " style="left:43px;top:289.7px;font-size:15.2px;-webkit-text-stroke:.35px;color:#fff">CRM</div><div class="a" style="left:217.5px;top:293.2px;width:13px;height:13px;color:#fff"><svg viewBox="0 0 448 512" width="13" height="13" fill="currentColor" ><path d="M207 381 13 187a24 24 0 0 1 0-34l23-23a24 24 0 0 1 34 0l154 153 154-153a24 24 0 0 1 34 0l23 23a24 24 0 0 1 0 34L241 381a24 24 0 0 1-34 0z"/></svg></div><div class="a" style="left:0px;top:320.2px;width:243.5px;height:36px;background:#e9eaeb"></div><div class="a" style="left:17px;top:329.7px;width:15px;height:19px;color:#343a40"><svg viewBox="0 0 448 512" width="15" height="19" fill="currentColor" ><path d="M400 0H48C22 0 0 22 0 48v416c0 26 22 48 48 48h352c26 0 48-22 48-48V48c0-26-22-48-48-48zM128 436c0 6-6 12-12 12H76c-6 0-12-6-12-12v-40c0-6 6-12 12-12h40c6 0 12 6 12 12zm0-128c0 6-6 12-12 12H76c-6 0-12-6-12-12v-40c0-6 6-12 12-12h40c6 0 12 6 12 12zm128 128c0 6-6 12-12 12h-40c-6 0-12-6-12-12v-40c0-6 6-12 12-12h40c6 0 12 6 12 12zm0-128c0 6-6 12-12 12h-40c-6 0-12-6-12-12v-40c0-6 6-12 12-12h40c6 0 12 6 12 12zm128 128c0 6-6 12-12 12h-40c-6 0-12-6-12-12V268c0-6 6-12 12-12h40c6 0 12 6 12 12zm0-256c0 6-6 12-12 12H76c-6 0-12-6-12-12V76c0-6 6-12 12-12h296c6 0 12 6 12 12z"/></svg></div><div class="a t " style="left:43.5px;top:330.2px;font-size:15.2px;-webkit-text-stroke:.35px;color:#343a40">Estimates</div><div class="a" style="left:16px;top:368.7px;width:15px;height:19px;color:#e3e6e8"><svg viewBox="0 0 448 512" width="15" height="19" fill="currentColor" ><path d="M400 0H48C22 0 0 22 0 48v416c0 26 22 48 48 48h352c26 0 48-22 48-48V48c0-26-22-48-48-48zM128 436c0 6-6 12-12 12H76c-6 0-12-6-12-12v-40c0-6 6-12 12-12h40c6 0 12 6 12 12zm0-128c0 6-6 12-12 12H76c-6 0-12-6-12-12v-40c0-6 6-12 12-12h40c6 0 12 6 12 12zm128 128c0 6-6 12-12 12h-40c-6 0-12-6-12-12v-40c0-6 6-12 12-12h40c6 0 12 6 12 12zm0-128c0 6-6 12-12 12h-40c-6 0-12-6-12-12v-40c0-6 6-12 12-12h40c6 0 12 6 12 12zm128 128c0 6-6 12-12 12h-40c-6 0-12-6-12-12V268c0-6 6-12 12-12h40c6 0 12 6 12 12zm0-256c0 6-6 12-12 12H76c-6 0-12-6-12-12V76c0-6 6-12 12-12h296c6 0 12 6 12 12z"/></svg></div><div class="a t " style="left:44.5px;top:369.2px;font-size:15.2px;-webkit-text-stroke:.35px;color:#e3e6e8">Enquiries</div><div class="a" style="left:224px;top:448.2px;width:2.5px;height:2.5px;background:#cfd3d6;border-radius:50%"></div><div class="a" style="left:224px;top:454.7px;width:2.5px;height:2.5px;background:#cfd3d6;border-radius:50%"></div><div class="a" style="left:226px;top:487.7px;width:2.5px;height:2.5px;background:#737a80;border-radius:50%"></div><div class="a" style="left:226px;top:494.2px;width:2.5px;height:2.5px;background:#737a80;border-radius:50%"></div></div></div></div><div class="strip" style="width:650.00px;height:950.00px;transform:matrix3d(0.34683154,-0.024647683,0,-0.00020876345,0.02676927,0.45277121,0,6.0351151e-05,0,0,1,0,471.02258,18.525628,0,0.71816934)"><div class="flat" style="transform:scale(1.0) translate(-1350px,0)"><div class="a screen" style="left:26px;top:27.3px;width:1942.5px;height:898.2px"><div class="a" style="left:243.5px;top:42.7px;width:1699.0px;height:855.5px;background:#eaedf0"></div><div class="a" style="left:243.5px;top:0.0px;width:1703.0px;height:42.7px;background:#f7f7f7"></div><div class="a" style="left:269.5px;top:8.2px;width:15px;height:17px;color:#555"><svg viewBox="0 0 448 512" width="15" height="17" fill="currentColor" ><path d="M16 132h416a16 16 0 0 0 16-16V76a16 16 0 0 0-16-16H16A16 16 0 0 0 0 76v40a16 16 0 0 0 16 16zm0 160h416a16 16 0 0 0 16-16v-40a16 16 0 0 0-16-16H16a16 16 0 0 0-16 16v40a16 16 0 0 0 16 16zm0 160h416a16 16 0 0 0 16-16v-40a16 16 0 0 0-16-16H16a16 16 0 0 0-16 16v40a16 16 0 0 0 16 16z"/></svg></div><div class="a t " style="left:317px;top:8.2px;font-size:15.5px;color:#6b6b6b">Home page</div><div class="a t " style="left:429px;top:8.2px;font-size:15.5px;color:#6b6b6b">About</div><div class="a" style="left:1811px;top:12.0px;width:18px;height:13.5px;background:repeating-linear-gradient(#d2554f 0 1.9px,#f2e6e6 1.9px 3.8px);overflow:hidden"><div style="width:8.5px;height:7.5px;background:#4a5fa8"></div></div><div class="a t " style="left:1832.5px;top:9.3px;font-size:16.8px;color:#777;-webkit-text-stroke:.45px;letter-spacing:-.55px">English</div><div class="a" style="left:1916px;top:7.7px;width:20.5px;height:21px;border-radius:50%;overflow:hidden;background:#c9ced2;box-shadow:0 1px 3px rgba(0,0,0,.35)"><svg viewBox="0 0 32 32" width="20.5" height="21" preserveAspectRatio="none"><rect width="32" height="32" fill="#cfd6da"/><path d="M4 32c0-7 5-9 12-9s12 2 12 9z" fill="#3a4046"/><path d="M13 23l3 5 3-5z" fill="#fff"/><path d="M15.300 25h1.400l.8 6h-3z" fill="#c0392b"/><ellipse cx="16" cy="14.500" rx="6.600" ry="8" fill="#f0b48f"/><path d="M8.800 13c-.8-8 3-10.500 7.200-10.500S24 5 23.200 13c-.7-3-1.600-4.300-2.600-5-2 .9-7.400.9-9.300 0-1 .7-1.800 2-2.500 5z" fill="#1f2326"/><ellipse cx="13.300" cy="14.300" rx="1" ry=".8" fill="#333"/><ellipse cx="18.700" cy="14.300" rx="1" ry=".8" fill="#333"/><path d="M13.500 19q2.500 1.500 5 0" stroke="#a5532f" stroke-width=".8" fill="none"/></svg></div><div class="a t " style="left:261.5px;top:61.7px;font-size:27.5px;color:#1f2328">Estimates</div><div class="a t " style="left:262px;top:101.2px;font-size:15.1px"><span style="color:#1a7bf2">Home Page</span><span style="color:#777;padding:0 8px">/</span><span style="color:#1a7bf2">CRM</span><span style="color:#777;padding:0 8px">/</span><span style="color:#6c757d">Estimates</span></div><div class="a" style="left:1598px;top:60.7px;width:91.5px;height:36.5px;background:#0d7bfb;border-radius:4px"></div><div class="a" style="left:1611px;top:71.7px;width:15px;height:15.5px;color:#fff"><svg viewBox="0 0 448 512" width="15" height="15.5" fill="currentColor" ><path d="M400 32H48C22 32 0 54 0 80v352c0 26 22 48 48 48h352c26 0 48-22 48-48V80c0-26-22-48-48-48zm-32 252c0 7-5 12-12 12h-92v92c0 7-5 12-12 12h-56c-7 0-12-5-12-12v-92H92c-7 0-12-5-12-12v-56c0-7 5-12 12-12h92v-92c0-7 5-12 12-12h56c7 0 12 5 12 12v92h92c7 0 12 5 12 12z"/></svg></div><div class="a t " style="left:1630px;top:71.0px;font-size:15px;color:#fff;-webkit-text-stroke:.5px">Create</div><div class="a" style="left:1695.5px;top:60.7px;width:189px;height:36px;background:#0d7bfb;border-radius:4px"></div><div class="a" style="left:1709px;top:71.2px;width:20px;height:16px;color:#fff"><svg viewBox="0 0 576 512" width="20" height="16" fill="currentColor" ><path d="M572 242C518 136 411 64 288 64S58 136 3 242a32 32 0 0 0 0 29c54 106 162 177 285 177s230-72 285-177a32 32 0 0 0-1-29zM288 400a144 144 0 1 1 144-144 144 144 0 0 1-144 144zm0-240a95 95 0 0 0-25 4 48 48 0 0 1-67 67 96 96 0 1 0 92-71z"/></svg></div><div class="a t " style="left:1733px;top:70.5px;font-size:15px;color:#fff;-webkit-text-stroke:.5px">Show Deleted Items</div><div class="a" style="left:1891.5px;top:62.7px;width:23px;height:29px"><svg viewBox="0 0 25 29" width="23" height="29" preserveAspectRatio="none"><path d="M2.500 0H13.500V8.500a2 2 0 0 0 2 2H25V26.500a2.500 2.500 0 0 1-2.500 2.500H2.500A2.500 2.500 0 0 1 0 26.500V2.500A2.500 2.500 0 0 1 2.500 0z" fill="#dc3040"/><path d="M15.500 0 25 8.500H15.500z" fill="#dc3040"/><path d="M5 23.500c3.500-1.500 6.500-6 7.300-11.500.3-2-1.800-2-1.500 0 .8 5 4 8 9 8.500 1.800.2 1.800-1.800 0-1.800-5 0-11 2-14.800 4.800z" fill="none" stroke="#fff" stroke-width="1.900"/></svg></div><div class="a" style="left:1927px;top:62.7px;width:23px;height:29px"><svg viewBox="0 0 25 29" width="23" height="29" preserveAspectRatio="none"><path d="M2.500 0H13.500V8.500a2 2 0 0 0 2 2H25V26.500a2.500 2.500 0 0 1-2.500 2.500H2.500A2.500 2.500 0 0 1 0 26.500V2.500A2.500 2.500 0 0 1 2.500 0z" fill="#21a03a"/><path d="M15.500 0 25 8.500H15.500z" fill="#21a03a"/><path d="M7.500 13l9 12M16.500 13l-9 12" stroke="#fff" stroke-width="3.200"/></svg></div><div class="a" style="left:261px;top:140.2px;width:1685.5px;height:726.5px;background:#f7f7f7;box-shadow:-1px -1px 2px rgba(0,0,0,.10)"></div><div class="a t " style="left:1680px;top:187.2px;font-size:13.4px;color:#333">Search:</div><div class="a" style="left:1732.5px;top:180.7px;width:180.5px;height:29px;border:1.5px solid #ced4da;border-radius:4px;background:#fafafa;box-sizing:border-box"></div><div class="a" style="left:303px;top:225.7px;width:1610px;height:545.5px;background:#f9f9f9"></div><div class="a" style="left:303px;top:263.7px;width:1610px;height:50.75px;background:#ebebeb"></div><div class="a" style="left:303px;top:313.9px;width:1610px;height:1px;background:#e2e5e8"></div><div class="a" style="left:303px;top:365.2px;width:1610px;height:50.75px;background:#ebebeb"></div><div class="a" style="left:303px;top:364.7px;width:1610px;height:1px;background:#e2e5e8"></div><div class="a" style="left:303px;top:415.4px;width:1610px;height:1px;background:#e2e5e8"></div><div class="a" style="left:303px;top:466.7px;width:1610px;height:50.75px;background:#ebebeb"></div><div class="a" style="left:303px;top:466.2px;width:1610px;height:1px;background:#e2e5e8"></div><div class="a" style="left:303px;top:517.0px;width:1610px;height:1px;background:#e2e5e8"></div><div class="a" style="left:303px;top:568.2px;width:1610px;height:50.75px;background:#ebebeb"></div><div class="a" style="left:303px;top:567.7px;width:1610px;height:1px;background:#e2e5e8"></div><div class="a" style="left:303px;top:618.5px;width:1610px;height:1px;background:#e2e5e8"></div><div class="a" style="left:303px;top:669.7px;width:1610px;height:50.75px;background:#ebebeb"></div><div class="a" style="left:303px;top:669.2px;width:1610px;height:1px;background:#e2e5e8"></div><div class="a" style="left:303px;top:720.0px;width:1610px;height:1px;background:#e2e5e8"></div><div class="a" style="left:303px;top:225.2px;width:1610px;height:1.2px;background:#d9dde1"></div><div class="a" style="left:303px;top:262.5px;width:1610px;height:2.4px;background:#cfd5da"></div><div class="a" style="left:303px;top:770.7px;width:1610px;height:1px;background:#e2e5e8"></div><div class="a" style="left:302.4px;top:225.7px;width:1.2px;height:545.5px;background:#e2e5e8"></div><div class="a" style="left:378.4px;top:225.7px;width:1.2px;height:545.5px;background:#e2e5e8"></div><div class="a" style="left:578.4px;top:225.7px;width:1.2px;height:545.5px;background:#e2e5e8"></div><div class="a" style="left:753.9px;top:225.7px;width:1.2px;height:545.5px;background:#e2e5e8"></div><div class="a" style="left:944.4px;top:225.7px;width:1.2px;height:545.5px;background:#e2e5e8"></div><div class="a" style="left:1221.9px;top:225.7px;width:1.2px;height:545.5px;background:#e2e5e8"></div><div class="a" style="left:1429.9px;top:225.7px;width:1.2px;height:545.5px;background:#e2e5e8"></div><div class="a" style="left:1579.4px;top:225.7px;width:1.2px;height:545.5px;background:#e2e5e8"></div><div class="a" style="left:1738.4px;top:225.7px;width:1.2px;height:545.5px;background:#e2e5e8"></div><div class="a" style="left:1912.4px;top:225.7px;width:1.2px;height:545.5px;background:#e2e5e8"></div><div class="a t b" style="left:312.5px;top:235.7px;font-size:13.8px;color:#111">No#</div><div class="a t b" style="left:388.5px;top:235.7px;font-size:13.8px;color:#111">Estimate Id</div><div class="a" style="left:556px;top:235.7px"><svg viewBox="0 0 16 11" width="16" height="11" fill="currentColor" ><path d="M4.500 10.500V1.500M1.200 4.800 4.500 1.300 7.800 4.800" stroke="#b9b9b9" stroke-width="1.700" fill="none"/><path d="M11.500 .5v9M8.200 6.200 11.500 9.700 14.800 6.200" stroke="#c6c6c6" stroke-width="1.700" fill="none"/></svg></div><div class="a t b" style="left:588.5px;top:235.7px;font-size:13.8px;color:#111">Design Id</div><div class="a" style="left:731.5px;top:235.7px"><svg viewBox="0 0 16 11" width="16" height="11" fill="currentColor" ><path d="M4.500 10.500V1.500M1.200 4.800 4.500 1.300 7.800 4.800" stroke="#b9b9b9" stroke-width="1.700" fill="none"/><path d="M11.500 .5v9M8.200 6.200 11.500 9.700 14.800 6.200" stroke="#c6c6c6" stroke-width="1.700" fill="none"/></svg></div><div class="a t b" style="left:764.0px;top:235.7px;font-size:13.8px;color:#111">Enquiry Id</div><div class="a" style="left:922px;top:235.7px"><svg viewBox="0 0 16 11" width="16" height="11" fill="currentColor" ><path d="M4.500 10.500V1.500M1.200 4.800 4.500 1.300 7.800 4.800" stroke="#b9b9b9" stroke-width="1.700" fill="none"/><path d="M11.500 .5v9M8.200 6.200 11.500 9.700 14.800 6.200" stroke="#c6c6c6" stroke-width="1.700" fill="none"/></svg></div><div class="a t b" style="left:954.5px;top:235.7px;font-size:13.8px;color:#111">Customer Name</div><div class="a" style="left:1199.5px;top:235.7px"><svg viewBox="0 0 16 11" width="16" height="11" fill="currentColor" ><path d="M4.500 10.500V1.500M1.200 4.800 4.500 1.300 7.800 4.800" stroke="#b9b9b9" stroke-width="1.700" fill="none"/><path d="M11.500 .5v9M8.200 6.200 11.500 9.700 14.800 6.200" stroke="#c6c6c6" stroke-width="1.700" fill="none"/></svg></div><div class="a t b" style="left:1232.0px;top:235.7px;font-size:13.8px;color:#111">Net Amount</div><div class="a" style="left:1407.5px;top:235.7px"><svg viewBox="0 0 16 11" width="16" height="11" fill="currentColor" ><path d="M4.500 10.500V1.500M1.200 4.800 4.500 1.300 7.800 4.800" stroke="#b9b9b9" stroke-width="1.700" fill="none"/><path d="M11.500 .5v9M8.200 6.200 11.500 9.700 14.800 6.200" stroke="#c6c6c6" stroke-width="1.700" fill="none"/></svg></div><div class="a t b" style="left:1440.0px;top:235.7px;font-size:13.8px;color:#111">Date</div><div class="a" style="left:1557px;top:235.7px"><svg viewBox="0 0 16 11" width="16" height="11" fill="currentColor" ><path d="M4.500 10.500V1.500M1.200 4.800 4.500 1.300 7.800 4.800" stroke="#b9b9b9" stroke-width="1.700" fill="none"/><path d="M11.500 .5v9M8.200 6.200 11.500 9.700 14.800 6.200" stroke="#c6c6c6" stroke-width="1.700" fill="none"/></svg></div><div class="a t b" style="left:1589.5px;top:235.7px;font-size:13.8px;color:#111">Status</div><div class="a" style="left:1716px;top:235.7px"><svg viewBox="0 0 16 11" width="16" height="11" fill="currentColor" ><path d="M4.500 10.500V1.500M1.200 4.800 4.500 1.300 7.800 4.800" stroke="#b9b9b9" stroke-width="1.700" fill="none"/><path d="M11.500 .5v9M8.200 6.200 11.500 9.700 14.800 6.200" stroke="#c6c6c6" stroke-width="1.700" fill="none"/></svg></div><div class="a t b" style="left:1748.5px;top:235.7px;font-size:13.8px;color:#111">Actions</div><div class="a t " style="left:312.5px;top:282.3px;font-size:13.2px;color:#222;letter-spacing:-.35px">1</div><div class="a t " style="left:388.8px;top:282.3px;font-size:13.2px;color:#222;letter-spacing:-.35px">EST0034</div><div class="a t " style="left:588.2px;top:282.3px;font-size:13.2px;color:#1b7af0;letter-spacing:-.35px">0035</div><div class="a t " style="left:778px;top:282.3px;font-size:13.2px;color:#1b7af0;letter-spacing:-.35px">ENQ0035</div><div class="a t " style="left:953.3px;top:282.0px;font-size:13.8px;color:#222">New Customer</div><div class="a t " style="left:1233.2px;top:282.3px;font-size:13.2px;color:#222;letter-spacing:-.35px">2242</div><div class="a t " style="left:1440.7px;top:282.3px;font-size:13.2px;color:#222;letter-spacing:-.35px">2025-08-24</div><div class="a t b" style="left:1590px;top:282.3px;font-size:13.4px;color:#e83ae0">Production</div><div class="a" style="left:1747.5px;top:276.1px;width:35.3px;height:28px;background:#26a343;border-radius:3.5px"></div><div class="a" style="left:1756.5px;top:282.6px;width:18px;height:15px;color:#fff"><svg viewBox="0 0 576 512" width="18" height="15" fill="currentColor" ><path d="M572 242C518 136 411 64 288 64S58 136 3 242a32 32 0 0 0 0 29c54 106 162 177 285 177s230-72 285-177a32 32 0 0 0-1-29zM288 400a144 144 0 1 1 144-144 144 144 0 0 1-144 144zm0-240a95 95 0 0 0-25 4 48 48 0 0 1-67 67 96 96 0 1 0 92-71z"/></svg></div><div class="a" style="left:1784.3px;top:276.1px;width:32.2px;height:28px;background:#da3243;border-radius:3.5px"></div><div class="a" style="left:1794.3px;top:282.6px;width:13px;height:15px;color:#fff"><svg viewBox="0 0 448 512" width="13" height="15" fill="currentColor" ><path d="M432 32H312l-9-19a24 24 0 0 0-22-13H167a24 24 0 0 0-21 13l-10 19H16A16 16 0 0 0 0 48v32a16 16 0 0 0 16 16h416a16 16 0 0 0 16-16V48a16 16 0 0 0-16-16zM53 467a48 48 0 0 0 48 45h246a48 48 0 0 0 48-45l21-339H32z"/></svg></div><div class="a t " style="left:312.5px;top:333.0px;font-size:13.2px;color:#222;letter-spacing:-.35px">2</div><div class="a t " style="left:388.8px;top:333.0px;font-size:13.2px;color:#222;letter-spacing:-.35px">EST0033</div><div class="a t " style="left:588.2px;top:333.0px;font-size:13.2px;color:#1b7af0;letter-spacing:-.35px">0032</div><div class="a t " style="left:778px;top:333.0px;font-size:13.2px;color:#1b7af0;letter-spacing:-.35px">ENQ0032</div><div class="a t " style="left:953.3px;top:332.7px;font-size:13.8px;color:#222">New Customer</div><div class="a t " style="left:1233.2px;top:333.0px;font-size:13.2px;color:#222;letter-spacing:-.35px">531</div><div class="a t " style="left:1440.7px;top:333.0px;font-size:13.2px;color:#222;letter-spacing:-.35px">2025-08-21</div><div class="a t b" style="left:1590px;top:333.0px;font-size:13.4px;color:#2d5bd8">Won</div><div class="a" style="left:1747.5px;top:326.8px;width:35.3px;height:28px;background:#26a343;border-radius:3.5px"></div><div class="a" style="left:1756.5px;top:333.3px;width:18px;height:15px;color:#fff"><svg viewBox="0 0 576 512" width="18" height="15" fill="currentColor" ><path d="M572 242C518 136 411 64 288 64S58 136 3 242a32 32 0 0 0 0 29c54 106 162 177 285 177s230-72 285-177a32 32 0 0 0-1-29zM288 400a144 144 0 1 1 144-144 144 144 0 0 1-144 144zm0-240a95 95 0 0 0-25 4 48 48 0 0 1-67 67 96 96 0 1 0 92-71z"/></svg></div><div class="a t " style="left:312.5px;top:383.8px;font-size:13.2px;color:#222;letter-spacing:-.35px">3</div><div class="a t " style="left:388.8px;top:383.8px;font-size:13.2px;color:#222;letter-spacing:-.35px">EST0032</div><div class="a t " style="left:588.2px;top:383.8px;font-size:13.2px;color:#1b7af0;letter-spacing:-.35px">0034</div><div class="a t " style="left:778px;top:383.8px;font-size:13.2px;color:#1b7af0;letter-spacing:-.35px">ENQ0034</div><div class="a t " style="left:953.3px;top:383.5px;font-size:13.8px;color:#222">Thomson International</div><div class="a t " style="left:1233.2px;top:383.8px;font-size:13.2px;color:#222;letter-spacing:-.35px">1770</div><div class="a t " style="left:1440.7px;top:383.8px;font-size:13.2px;color:#222;letter-spacing:-.35px">2025-08-21</div><div class="a t b" style="left:1590px;top:383.8px;font-size:13.4px;color:#79b7e3">Draft</div><div class="a" style="left:1747.5px;top:377.6px;width:34px;height:28px;background:#62696f;border-radius:3.5px"></div><div class="a" style="left:1757.5px;top:384.6px;width:14px;height:14px;color:#fff"><svg viewBox="0 0 512 512" width="14" height="14" fill="currentColor" ><path d="M498 142l-46 46c-5 5-12 5-17 0L324 77c-5-5-5-12 0-17l46-46c19-19 49-19 68 0l60 60c19 19 19 49 0 68zM285 99 23 361 2 482c-3 17 12 31 28 28l121-21 262-262c5-5 5-12 0-17L302 99c-5-5-12-5-17 0z"/></svg></div><div class="a" style="left:1783.0px;top:377.6px;width:35.3px;height:28px;background:#26a343;border-radius:3.5px"></div><div class="a" style="left:1792.0px;top:384.1px;width:18px;height:15px;color:#fff"><svg viewBox="0 0 576 512" width="18" height="15" fill="currentColor" ><path d="M572 242C518 136 411 64 288 64S58 136 3 242a32 32 0 0 0 0 29c54 106 162 177 285 177s230-72 285-177a32 32 0 0 0-1-29zM288 400a144 144 0 1 1 144-144 144 144 0 0 1-144 144zm0-240a95 95 0 0 0-25 4 48 48 0 0 1-67 67 96 96 0 1 0 92-71z"/></svg></div><div class="a" style="left:1819.8px;top:377.6px;width:32.2px;height:28px;background:#da3243;border-radius:3.5px"></div><div class="a" style="left:1829.8px;top:384.1px;width:13px;height:15px;color:#fff"><svg viewBox="0 0 448 512" width="13" height="15" fill="currentColor" ><path d="M432 32H312l-9-19a24 24 0 0 0-22-13H167a24 24 0 0 0-21 13l-10 19H16A16 16 0 0 0 0 48v32a16 16 0 0 0 16 16h416a16 16 0 0 0 16-16V48a16 16 0 0 0-16-16zM53 467a48 48 0 0 0 48 45h246a48 48 0 0 0 48-45l21-339H32z"/></svg></div><div class="a t " style="left:312.5px;top:434.5px;font-size:13.2px;color:#222;letter-spacing:-.35px">4</div><div class="a t " style="left:388.8px;top:434.5px;font-size:13.2px;color:#222;letter-spacing:-.35px">EST0031</div><div class="a t " style="left:588.2px;top:434.5px;font-size:13.2px;color:#1b7af0;letter-spacing:-.35px">0033</div><div class="a t " style="left:778px;top:434.5px;font-size:13.2px;color:#1b7af0;letter-spacing:-.35px">ENQ0033</div><div class="a t " style="left:953.3px;top:434.2px;font-size:13.8px;color:#222">Thomson International</div><div class="a t " style="left:1233.2px;top:434.5px;font-size:13.2px;color:#222;letter-spacing:-.35px">2065</div><div class="a t " style="left:1440.7px;top:434.5px;font-size:13.2px;color:#222;letter-spacing:-.35px">2025-08-14</div><div class="a t b" style="left:1590px;top:434.5px;font-size:13.4px;color:#2d5bd8">Won</div><div class="a" style="left:1747.5px;top:428.3px;width:35.3px;height:28px;background:#26a343;border-radius:3.5px"></div><div class="a" style="left:1756.5px;top:434.8px;width:18px;height:15px;color:#fff"><svg viewBox="0 0 576 512" width="18" height="15" fill="currentColor" ><path d="M572 242C518 136 411 64 288 64S58 136 3 242a32 32 0 0 0 0 29c54 106 162 177 285 177s230-72 285-177a32 32 0 0 0-1-29zM288 400a144 144 0 1 1 144-144 144 144 0 0 1-144 144zm0-240a95 95 0 0 0-25 4 48 48 0 0 1-67 67 96 96 0 1 0 92-71z"/></svg></div><div class="a t " style="left:312.5px;top:485.3px;font-size:13.2px;color:#222;letter-spacing:-.35px">5</div><div class="a t " style="left:388.8px;top:485.3px;font-size:13.2px;color:#222;letter-spacing:-.35px">EST0030</div><div class="a t " style="left:588.2px;top:485.3px;font-size:13.2px;color:#1b7af0;letter-spacing:-.35px">0031</div><div class="a t " style="left:778px;top:485.3px;font-size:13.2px;color:#1b7af0;letter-spacing:-.35px">ENQ0031</div><div class="a t " style="left:953.3px;top:485.0px;font-size:13.8px;color:#222">New Customer</div><div class="a t " style="left:1233.2px;top:485.3px;font-size:13.2px;color:#222;letter-spacing:-.35px">413</div><div class="a t " style="left:1440.7px;top:485.3px;font-size:13.2px;color:#222;letter-spacing:-.35px">2025-08-10</div><div class="a t b" style="left:1590px;top:485.3px;font-size:13.4px;color:#e83ae0">Production</div><div class="a" style="left:1747.5px;top:479.1px;width:35.3px;height:28px;background:#26a343;border-radius:3.5px"></div><div class="a" style="left:1756.5px;top:485.6px;width:18px;height:15px;color:#fff"><svg viewBox="0 0 576 512" width="18" height="15" fill="currentColor" ><path d="M572 242C518 136 411 64 288 64S58 136 3 242a32 32 0 0 0 0 29c54 106 162 177 285 177s230-72 285-177a32 32 0 0 0-1-29zM288 400a144 144 0 1 1 144-144 144 144 0 0 1-144 144zm0-240a95 95 0 0 0-25 4 48 48 0 0 1-67 67 96 96 0 1 0 92-71z"/></svg></div><div class="a" style="left:1784.3px;top:479.1px;width:32.2px;height:28px;background:#da3243;border-radius:3.5px"></div><div class="a" style="left:1794.3px;top:485.6px;width:13px;height:15px;color:#fff"><svg viewBox="0 0 448 512" width="13" height="15" fill="currentColor" ><path d="M432 32H312l-9-19a24 24 0 0 0-22-13H167a24 24 0 0 0-21 13l-10 19H16A16 16 0 0 0 0 48v32a16 16 0 0 0 16 16h416a16 16 0 0 0 16-16V48a16 16 0 0 0-16-16zM53 467a48 48 0 0 0 48 45h246a48 48 0 0 0 48-45l21-339H32z"/></svg></div><div class="a t " style="left:312.5px;top:536.0px;font-size:13.2px;color:#222;letter-spacing:-.35px">6</div><div class="a t " style="left:388.8px;top:536.0px;font-size:13.2px;color:#222;letter-spacing:-.35px">EST0029</div><div class="a t " style="left:588.2px;top:536.0px;font-size:13.2px;color:#1b7af0;letter-spacing:-.35px">0030</div><div class="a t " style="left:778px;top:536.0px;font-size:13.2px;color:#1b7af0;letter-spacing:-.35px">ENQ0030</div><div class="a t " style="left:953.3px;top:535.7px;font-size:13.8px;color:#222">New Customer</div><div class="a t " style="left:1233.2px;top:536.0px;font-size:13.2px;color:#222;letter-spacing:-.35px">1492.7</div><div class="a t " style="left:1440.7px;top:536.0px;font-size:13.2px;color:#222;letter-spacing:-.35px">2025-08-01</div><div class="a t b" style="left:1590px;top:536.0px;font-size:13.4px;color:#2d5bd8">Won</div><div class="a" style="left:1747.5px;top:529.8px;width:35.3px;height:28px;background:#26a343;border-radius:3.5px"></div><div class="a" style="left:1756.5px;top:536.3px;width:18px;height:15px;color:#fff"><svg viewBox="0 0 576 512" width="18" height="15" fill="currentColor" ><path d="M572 242C518 136 411 64 288 64S58 136 3 242a32 32 0 0 0 0 29c54 106 162 177 285 177s230-72 285-177a32 32 0 0 0-1-29zM288 400a144 144 0 1 1 144-144 144 144 0 0 1-144 144zm0-240a95 95 0 0 0-25 4 48 48 0 0 1-67 67 96 96 0 1 0 92-71z"/></svg></div><div class="a t " style="left:312.5px;top:586.8px;font-size:13.2px;color:#222;letter-spacing:-.35px">7</div><div class="a t " style="left:388.8px;top:586.8px;font-size:13.2px;color:#222;letter-spacing:-.35px">EST0028</div><div class="a t " style="left:588.2px;top:586.8px;font-size:13.2px;color:#1b7af0;letter-spacing:-.35px">0029</div><div class="a t " style="left:778px;top:586.8px;font-size:13.2px;color:#1b7af0;letter-spacing:-.35px">ENQ0029</div><div class="a t " style="left:953.3px;top:586.5px;font-size:13.8px;color:#222">Thomson International</div><div class="a t " style="left:1233.2px;top:586.8px;font-size:13.2px;color:#222;letter-spacing:-.35px">1510.4</div><div class="a t " style="left:1440.7px;top:586.8px;font-size:13.2px;color:#222;letter-spacing:-.35px">2025-08-01</div><div class="a t b" style="left:1590px;top:586.8px;font-size:13.4px;color:#2d5bd8">Won</div><div class="a" style="left:1747.5px;top:580.6px;width:35.3px;height:28px;background:#26a343;border-radius:3.5px"></div><div class="a" style="left:1756.5px;top:587.1px;width:18px;height:15px;color:#fff"><svg viewBox="0 0 576 512" width="18" height="15" fill="currentColor" ><path d="M572 242C518 136 411 64 288 64S58 136 3 242a32 32 0 0 0 0 29c54 106 162 177 285 177s230-72 285-177a32 32 0 0 0-1-29zM288 400a144 144 0 1 1 144-144 144 144 0 0 1-144 144zm0-240a95 95 0 0 0-25 4 48 48 0 0 1-67 67 96 96 0 1 0 92-71z"/></svg></div><div class="a t " style="left:312.5px;top:637.5px;font-size:13.2px;color:#222;letter-spacing:-.35px">8</div><div class="a t " style="left:388.8px;top:637.5px;font-size:13.2px;color:#222;letter-spacing:-.35px">EST0027</div><div class="a t " style="left:588.2px;top:637.5px;font-size:13.2px;color:#1b7af0;letter-spacing:-.35px">0028</div><div class="a t " style="left:778px;top:637.5px;font-size:13.2px;color:#1b7af0;letter-spacing:-.35px">ENQ0028</div><div class="a t " style="left:953.3px;top:637.2px;font-size:13.8px;color:#222">Thomson International</div><div class="a t " style="left:1233.2px;top:637.5px;font-size:13.2px;color:#222;letter-spacing:-.35px">1498.6</div><div class="a t " style="left:1440.7px;top:637.5px;font-size:13.2px;color:#222;letter-spacing:-.35px">2025-08-01</div><div class="a t b" style="left:1590px;top:637.5px;font-size:13.4px;color:#79b7e3">Draft</div><div class="a" style="left:1747.5px;top:631.3px;width:34px;height:28px;background:#62696f;border-radius:3.5px"></div><div class="a" style="left:1757.5px;top:638.3px;width:14px;height:14px;color:#fff"><svg viewBox="0 0 512 512" width="14" height="14" fill="currentColor" ><path d="M498 142l-46 46c-5 5-12 5-17 0L324 77c-5-5-5-12 0-17l46-46c19-19 49-19 68 0l60 60c19 19 19 49 0 68zM285 99 23 361 2 482c-3 17 12 31 28 28l121-21 262-262c5-5 5-12 0-17L302 99c-5-5-12-5-17 0z"/></svg></div><div class="a" style="left:1783.0px;top:631.3px;width:35.3px;height:28px;background:#26a343;border-radius:3.5px"></div><div class="a" style="left:1792.0px;top:637.8px;width:18px;height:15px;color:#fff"><svg viewBox="0 0 576 512" width="18" height="15" fill="currentColor" ><path d="M572 242C518 136 411 64 288 64S58 136 3 242a32 32 0 0 0 0 29c54 106 162 177 285 177s230-72 285-177a32 32 0 0 0-1-29zM288 400a144 144 0 1 1 144-144 144 144 0 0 1-144 144zm0-240a95 95 0 0 0-25 4 48 48 0 0 1-67 67 96 96 0 1 0 92-71z"/></svg></div><div class="a" style="left:1819.8px;top:631.3px;width:32.2px;height:28px;background:#da3243;border-radius:3.5px"></div><div class="a" style="left:1829.8px;top:637.8px;width:13px;height:15px;color:#fff"><svg viewBox="0 0 448 512" width="13" height="15" fill="currentColor" ><path d="M432 32H312l-9-19a24 24 0 0 0-22-13H167a24 24 0 0 0-21 13l-10 19H16A16 16 0 0 0 0 48v32a16 16 0 0 0 16 16h416a16 16 0 0 0 16-16V48a16 16 0 0 0-16-16zM53 467a48 48 0 0 0 48 45h246a48 48 0 0 0 48-45l21-339H32z"/></svg></div><div class="a t " style="left:312.5px;top:688.3px;font-size:13.2px;color:#222;letter-spacing:-.35px">9</div><div class="a t " style="left:388.8px;top:688.3px;font-size:13.2px;color:#222;letter-spacing:-.35px">EST0026</div><div class="a t " style="left:588.2px;top:688.3px;font-size:13.2px;color:#1b7af0;letter-spacing:-.35px">0027</div><div class="a t " style="left:778px;top:688.3px;font-size:13.2px;color:#1b7af0;letter-spacing:-.35px">ENQ0027</div><div class="a t " style="left:953.3px;top:688.0px;font-size:13.8px;color:#222">Thomson International</div><div class="a t " style="left:1233.2px;top:688.3px;font-size:13.2px;color:#222;letter-spacing:-.35px">1416</div><div class="a t " style="left:1440.7px;top:688.3px;font-size:13.2px;color:#222;letter-spacing:-.35px">2025-07-30</div><div class="a t b" style="left:1590px;top:688.3px;font-size:13.4px;color:#e83ae0">Production</div><div class="a" style="left:1747.5px;top:682.1px;width:35.3px;height:28px;background:#26a343;border-radius:3.5px"></div><div class="a" style="left:1756.5px;top:688.6px;width:18px;height:15px;color:#fff"><svg viewBox="0 0 576 512" width="18" height="15" fill="currentColor" ><path d="M572 242C518 136 411 64 288 64S58 136 3 242a32 32 0 0 0 0 29c54 106 162 177 285 177s230-72 285-177a32 32 0 0 0-1-29zM288 400a144 144 0 1 1 144-144 144 144 0 0 1-144 144zm0-240a95 95 0 0 0-25 4 48 48 0 0 1-67 67 96 96 0 1 0 92-71z"/></svg></div><div class="a" style="left:1784.3px;top:682.1px;width:32.2px;height:28px;background:#da3243;border-radius:3.5px"></div><div class="a" style="left:1794.3px;top:688.6px;width:13px;height:15px;color:#fff"><svg viewBox="0 0 448 512" width="13" height="15" fill="currentColor" ><path d="M432 32H312l-9-19a24 24 0 0 0-22-13H167a24 24 0 0 0-21 13l-10 19H16A16 16 0 0 0 0 48v32a16 16 0 0 0 16 16h416a16 16 0 0 0 16-16V48a16 16 0 0 0-16-16zM53 467a48 48 0 0 0 48 45h246a48 48 0 0 0 48-45l21-339H32z"/></svg></div><div class="a t " style="left:312.5px;top:739.0px;font-size:13.2px;color:#222;letter-spacing:-.35px">10</div><div class="a t " style="left:388.8px;top:739.0px;font-size:13.2px;color:#222;letter-spacing:-.35px">EST0025</div><div class="a t " style="left:588.2px;top:739.0px;font-size:13.2px;color:#1b7af0;letter-spacing:-.35px">0026</div><div class="a t " style="left:778px;top:739.0px;font-size:13.2px;color:#1b7af0;letter-spacing:-.35px">ENQ0026</div><div class="a t " style="left:953.3px;top:738.7px;font-size:13.8px;color:#222">Thomson International</div><div class="a t " style="left:1233.2px;top:739.0px;font-size:13.2px;color:#222;letter-spacing:-.35px">1416</div><div class="a t " style="left:1440.7px;top:739.0px;font-size:13.2px;color:#222;letter-spacing:-.35px">2025-07-25</div><div class="a t b" style="left:1590px;top:739.0px;font-size:13.4px;color:#2d5bd8">Won</div><div class="a" style="left:1747.5px;top:732.8px;width:35.3px;height:28px;background:#26a343;border-radius:3.5px"></div><div class="a" style="left:1756.5px;top:739.3px;width:18px;height:15px;color:#fff"><svg viewBox="0 0 576 512" width="18" height="15" fill="currentColor" ><path d="M572 242C518 136 411 64 288 64S58 136 3 242a32 32 0 0 0 0 29c54 106 162 177 285 177s230-72 285-177a32 32 0 0 0-1-29zM288 400a144 144 0 1 1 144-144 144 144 0 0 1-144 144zm0-240a95 95 0 0 0-25 4 48 48 0 0 1-67 67 96 96 0 1 0 92-71z"/></svg></div><div class="a t " style="left:444px;top:800.7px;font-size:13.3px;color:#222;letter-spacing:-.3px">1-10 of 34 items</div><div class="a t " style="left:971px;top:792.2px;font-size:13.2px;color:#222">Show</div><div class="a" style="left:1007.5px;top:793.7px;width:60px;height:21px;border:1.2px solid #ced4da;border-radius:3px;box-sizing:border-box;background:#fafafa"></div><div class="a t " style="left:1016px;top:796.7px;font-size:11.5px;color:#444">10</div><div class="a" style="left:1050px;top:799.2px"><svg width="7" height="10" viewBox="0 0 7 10"><path d="M3.500 0 6.500 4H.5zM3.500 10 .5 6h6z" fill="#333"/></svg></div><div class="a t " style="left:1071.5px;top:794.7px;font-size:13.2px;color:#222">entries</div><div class="a" style="left:1708px;top:788.7px;width:202.5px;height:34px;background:#fbfbfb;border:1px solid #dde1e5;border-radius:4px;box-sizing:border-box"></div><div class="a" style="left:1742.0px;top:788.7px;width:1px;height:34px;background:#dde1e5"></div><div class="a" style="left:1777.5px;top:788.7px;width:1px;height:34px;background:#dde1e5"></div><div class="a" style="left:1809.1px;top:788.7px;width:1px;height:34px;background:#dde1e5"></div><div class="a" style="left:1842.1px;top:788.7px;width:1px;height:34px;background:#dde1e5"></div><div class="a" style="left:1875.2px;top:788.7px;width:1px;height:34px;background:#dde1e5"></div><div class="a" style="left:1742.5px;top:788.7px;width:35.5px;height:34px;background:#0d7bfb"></div><div class="a" style="left:1719.8px;top:797.7px"><svg width="11" height="16" viewBox="0 0 11 16"><path d="M8.500 2 2.500 8l6 6" fill="none" stroke="#3c4248" stroke-width="2.600"/></svg></div><div class="a t" style="left:1745.2px;top:788.7px;width:30px;height:34px;line-height:35px;text-align:center;font-size:13.5px;color:#fff">1</div><div class="a t" style="left:1778.8px;top:788.7px;width:30px;height:34px;line-height:35px;text-align:center;font-size:13.5px;color:#1a7bf2">2</div><div class="a t" style="left:1811.1px;top:788.7px;width:30px;height:34px;line-height:35px;text-align:center;font-size:13.5px;color:#1a7bf2">3</div><div class="a t" style="left:1844.2px;top:788.7px;width:30px;height:34px;line-height:35px;text-align:center;font-size:13.5px;color:#1a7bf2">4</div><div class="a" style="left:1887.6px;top:797.7px"><svg width="11" height="16" viewBox="0 0 11 16"><path d="M2.500 2l6 6-6 6" fill="none" stroke="#0d6ff0" stroke-width="2.600"/></svg></div><div class="a" style="left:243.5px;top:863.2px;width:1703.0px;height:44px;background:#f7f7f7;border-top:3.5px solid #dbe1e7;box-shadow:0 -2px 0 #fbfbfb"></div><div class="a t " style="left:262px;top:889.7px;font-size:15.4px;color:#555">Copyright &copy; 2025 <b style="color:#1a7bf2">ERPack</b>. All rights reserved.</div><div class="a t " style="left:1766px;top:888.7px;font-size:15px;color:#555;white-space:nowrap"><b>Version</b> 8.0.0.0 [20251026]</div><div class="a" style="left:0px;top:0.0px;width:243.5px;height:898.2px;background:#343a40;box-shadow:2px 0 7px rgba(0,0,0,.22)"></div><div class="a" style="left:6px;top:-0.3px;width:13px;height:13px;background:#dfe6ea;border-radius:2px"><div style="margin:3px 2px;width:9px;height:7px;background:#6aa56a;border-radius:1px"></div></div><div class="a t b" style="left:20px;top:-0.8px;font-size:16px;color:#f2f2f2">Logo</div><div class="a t " style="left:74px;top:7.2px;font-size:17.8px;color:#c4c9ce;letter-spacing:-.2px;-webkit-text-stroke:0">ERPack</div><div class="a" style="left:0px;top:42.7px;width:243.5px;height:1px;background:#4b545c"></div><div class="a" style="left:6.7px;top:63.2px;width:32.5px;height:32px;border-radius:50%;overflow:hidden;background:#c9ced2;box-shadow:0 1px 3px rgba(0,0,0,.35)"><svg viewBox="0 0 32 32" width="32.5" height="32" preserveAspectRatio="none"><rect width="32" height="32" fill="#cfd6da"/><path d="M4 32c0-7 5-9 12-9s12 2 12 9z" fill="#3a4046"/><path d="M13 23l3 5 3-5z" fill="#fff"/><path d="M15.300 25h1.400l.8 6h-3z" fill="#c0392b"/><ellipse cx="16" cy="14.500" rx="6.600" ry="8" fill="#f0b48f"/><path d="M8.800 13c-.8-8 3-10.500 7.200-10.500S24 5 23.200 13c-.7-3-1.600-4.300-2.600-5-2 .9-7.400.9-9.300 0-1 .7-1.800 2-2.500 5z" fill="#1f2326"/><ellipse cx="13.300" cy="14.300" rx="1" ry=".8" fill="#333"/><ellipse cx="18.700" cy="14.300" rx="1" ry=".8" fill="#333"/><path d="M13.500 19q2.500 1.500 5 0" stroke="#a5532f" stroke-width=".8" fill="none"/></svg></div><div class="a t " style="left:52px;top:68.7px;font-size:15px;color:#c9cdd1">ERPack\admin</div><div class="a" style="left:8px;top:108.7px;width:228px;height:1px;background:#4f5962"></div><div class="a" style="left:11.5px;top:134.7px;width:23px;height:19px;color:#eceef0"><svg viewBox="0 0 576 512" width="23" height="19" fill="currentColor" ><path d="M280 148 96 300v164a16 16 0 0 0 16 16l112-.3a16 16 0 0 0 16-16V368a16 16 0 0 1 16-16h64a16 16 0 0 1 16 16v95.600a16 16 0 0 0 16 16.100l112 .3a16 16 0 0 0 16-16V300L296 148a12 12 0 0 0-16 0zM572 251l-84-69V44a12 12 0 0 0-12-12h-56a12 12 0 0 0-12 12v73l-89-74a48 48 0 0 0-61 0L4 251a12 12 0 0 0-2 17l26 31a12 12 0 0 0 17 2L280 107a12 12 0 0 1 16 0l236 194a12 12 0 0 0 17-2l26-31a12 12 0 0 0-3-17z"/></svg></div><div class="a t " style="left:43px;top:134.4px;font-size:15.2px;-webkit-text-stroke:.35px;color:#e6e9eb">Home page</div><div class="a" style="left:11.5px;top:174.2px;width:23px;height:19px;color:#eceef0"><svg viewBox="0 0 640 512" width="23" height="19" fill="currentColor" ><circle cx="112" cy="176" r="64"/><circle cx="528" cy="176" r="64"/><circle cx="320" cy="160" r="104"/><path d="M40 260h110c-30 24-44 60-40 100H20v-50c0-30 10-50 20-50zM600 260H490c30 24 44 60 40 100h90v-50c0-30-10-50-20-50zM230 290h180c60 0 90 50 90 100v60c0 20-12 30-30 30H170c-18 0-30-10-30-30v-60c0-50 30-100 90-100z"/></svg></div><div class="a t " style="left:43px;top:173.9px;font-size:15.2px;-webkit-text-stroke:.35px;color:#e6e9eb">Users</div><div class="a" style="left:11.5px;top:213.2px;width:23px;height:19px;color:#eceef0"><svg viewBox="0 0 576 512" width="23" height="19" fill="currentColor" ><circle cx="96" cy="80" r="64"/><circle cx="480" cy="80" r="64"/><path d="M40 170h112c22 0 40 18 40 40v270h-60V340h-72v140H0V210c0-22 18-40 40-40zM424 170h112c22 0 40 18 40 40v270h-60V340h-72v140h-60V210c0-22 18-40 40-40z"/><path d="M200 250h176v56H200z"/></svg></div><div class="a t " style="left:43px;top:212.9px;font-size:15.2px;-webkit-text-stroke:.35px;color:#e6e9eb">Customers</div><div class="a" style="left:11.5px;top:252.7px;width:23px;height:19px;color:#eceef0"><svg viewBox="0 0 512 512" width="23" height="19" fill="currentColor" ><circle cx="256" cy="256" r="70"/><circle cx="256" cy="80" r="70"/><circle cx="256" cy="432" r="70"/><circle cx="104" cy="168" r="70"/><circle cx="408" cy="168" r="70"/><circle cx="104" cy="344" r="70"/><circle cx="408" cy="344" r="70"/></svg></div><div class="a t " style="left:43px;top:252.4px;font-size:15.2px;-webkit-text-stroke:.35px;color:#e6e9eb">Materials</div><div class="a" style="left:0px;top:279.7px;width:243.5px;height:38.5px;background:#007bff"></div><div class="a" style="left:11.5px;top:289.7px;width:25px;height:19px;color:#fff"><svg viewBox="0 0 640 512" width="25" height="19" fill="currentColor" ><path d="M140 360h250a110 110 0 0 1 140-150 110 110 0 0 0-100-70 150 150 0 0 0-280-20A130 130 0 0 0 140 360z"/><circle cx="490" cy="380" r="100"/><circle cx="490" cy="380" r="38" fill="#007bff"/></svg></div><div class="a t " style="left:43px;top:289.7px;font-size:15.2px;-webkit-text-stroke:.35px;color:#fff">CRM</div><div class="a" style="left:217.5px;top:293.2px;width:13px;height:13px;color:#fff"><svg viewBox="0 0 448 512" width="13" height="13" fill="currentColor" ><path d="M207 381 13 187a24 24 0 0 1 0-34l23-23a24 24 0 0 1 34 0l154 153 154-153a24 24 0 0 1 34 0l23 23a24 24 0 0 1 0 34L241 381a24 24 0 0 1-34 0z"/></svg></div><div class="a" style="left:0px;top:320.2px;width:243.5px;height:36px;background:#e9eaeb"></div><div class="a" style="left:17px;top:329.7px;width:15px;height:19px;color:#343a40"><svg viewBox="0 0 448 512" width="15" height="19" fill="currentColor" ><path d="M400 0H48C22 0 0 22 0 48v416c0 26 22 48 48 48h352c26 0 48-22 48-48V48c0-26-22-48-48-48zM128 436c0 6-6 12-12 12H76c-6 0-12-6-12-12v-40c0-6 6-12 12-12h40c6 0 12 6 12 12zm0-128c0 6-6 12-12 12H76c-6 0-12-6-12-12v-40c0-6 6-12 12-12h40c6 0 12 6 12 12zm128 128c0 6-6 12-12 12h-40c-6 0-12-6-12-12v-40c0-6 6-12 12-12h40c6 0 12 6 12 12zm0-128c0 6-6 12-12 12h-40c-6 0-12-6-12-12v-40c0-6 6-12 12-12h40c6 0 12 6 12 12zm128 128c0 6-6 12-12 12h-40c-6 0-12-6-12-12V268c0-6 6-12 12-12h40c6 0 12 6 12 12zm0-256c0 6-6 12-12 12H76c-6 0-12-6-12-12V76c0-6 6-12 12-12h296c6 0 12 6 12 12z"/></svg></div><div class="a t " style="left:43.5px;top:330.2px;font-size:15.2px;-webkit-text-stroke:.35px;color:#343a40">Estimates</div><div class="a" style="left:16px;top:368.7px;width:15px;height:19px;color:#e3e6e8"><svg viewBox="0 0 448 512" width="15" height="19" fill="currentColor" ><path d="M400 0H48C22 0 0 22 0 48v416c0 26 22 48 48 48h352c26 0 48-22 48-48V48c0-26-22-48-48-48zM128 436c0 6-6 12-12 12H76c-6 0-12-6-12-12v-40c0-6 6-12 12-12h40c6 0 12 6 12 12zm0-128c0 6-6 12-12 12H76c-6 0-12-6-12-12v-40c0-6 6-12 12-12h40c6 0 12 6 12 12zm128 128c0 6-6 12-12 12h-40c-6 0-12-6-12-12v-40c0-6 6-12 12-12h40c6 0 12 6 12 12zm0-128c0 6-6 12-12 12h-40c-6 0-12-6-12-12v-40c0-6 6-12 12-12h40c6 0 12 6 12 12zm128 128c0 6-6 12-12 12h-40c-6 0-12-6-12-12V268c0-6 6-12 12-12h40c6 0 12 6 12 12zm0-256c0 6-6 12-12 12H76c-6 0-12-6-12-12V76c0-6 6-12 12-12h296c6 0 12 6 12 12z"/></svg></div><div class="a t " style="left:44.5px;top:369.2px;font-size:15.2px;-webkit-text-stroke:.35px;color:#e3e6e8">Enquiries</div><div class="a" style="left:224px;top:448.2px;width:2.5px;height:2.5px;background:#cfd3d6;border-radius:50%"></div><div class="a" style="left:224px;top:454.7px;width:2.5px;height:2.5px;background:#cfd3d6;border-radius:50%"></div><div class="a" style="left:226px;top:487.7px;width:2.5px;height:2.5px;background:#737a80;border-radius:50%"></div><div class="a" style="left:226px;top:494.2px;width:2.5px;height:2.5px;background:#737a80;border-radius:50%"></div></div></div></div>
<svg id="ov" width="1200" height="680" viewBox="0 0 1200 680">
<polygon points="2.800,51.800 1195.700,4.300 1195.300,8.200 3.100,55.300" fill="#fff" opacity=".8"/><polygon points="1183.500,5.200 1195.700,4.300 1128.300,676.200 1121.500,673.600" fill="#fff" opacity=".75"/>
<polygon points="26.700,455.800 1128.300,676.200 1121.500,673.600 30,452.500" fill="#fff" opacity=".6"/>
<polyline points="2.800,51.800 1195.700,4.300" fill="none" stroke="#a9a9a9" stroke-width="1.100"/><polyline points="1195.700,4.300 1128.300,676.200" fill="none" stroke="#cbcbcb" stroke-width="1.300"/>
<polyline points="26.700,455.800 1128.300,676.200" fill="none" stroke="#cbcbcb" stroke-width="1.900"/>
<polyline points="2.800,51.800 26.700,455.800" fill="none" stroke="#b5b5b5" stroke-width="1" stroke-dasharray="3 3"/>
</svg>
</body></html>
